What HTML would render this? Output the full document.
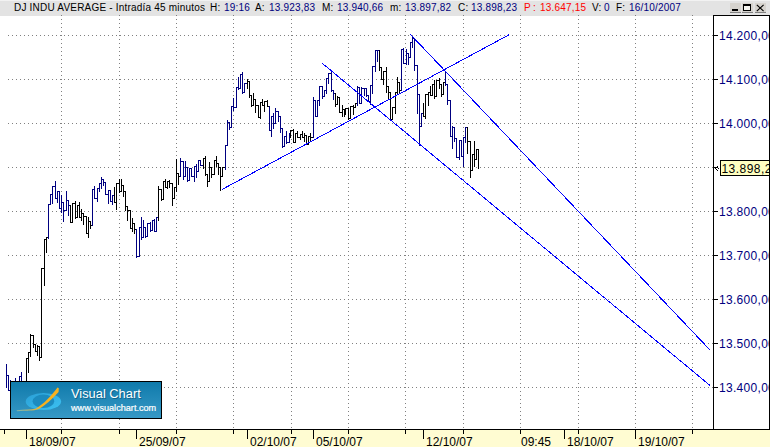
<!DOCTYPE html>
<html><head><meta charset="utf-8"><style>
html,body{margin:0;padding:0;}
body{width:770px;height:447px;overflow:hidden;position:relative;background:#fff;font-family:"Liberation Sans",sans-serif;}
#hdr{position:absolute;left:0;top:0;width:770px;height:15px;background:#e3e3e3;border-top:1px solid #f2f2f2;}
#hdr span{position:absolute;top:1px;font-size:10px;line-height:11px;letter-spacing:0.2px;white-space:nowrap;color:#000;}
#hdr .v{color:#000080;}
#hdr .r{color:#ff0000;}
.btn{position:absolute;top:2px;width:11px;height:10px;background:#d6d3ce;border-bottom:1px solid #808080;box-sizing:border-box;}
svg{position:absolute;left:0;top:0;}
</style></head><body>
<div id="hdr">
<span style="left:14px">DJ INDU AVERAGE - Intradía 45 minutos</span>
<span style="left:210px">H:</span><span class="v" style="left:224px">19:16</span>
<span style="left:255px">A:</span><span class="v" style="left:269px">13.923,83</span>
<span style="left:322px">M:</span><span class="v" style="left:337px">13.940,66</span>
<span style="left:390px">m:</span><span class="v" style="left:405px">13.897,82</span>
<span style="left:458px">C:</span><span class="v" style="left:471px">13.898,23</span>
<span class="r" style="left:524px">P</span><span class="r" style="left:533px">:</span><span class="r" style="left:540px">13.647,15</span>
<span style="left:592px">V:</span><span class="v" style="left:604px">0</span>
<span style="left:616px">F:</span><span class="v" style="left:629px">16/10/2007</span>
<div class="btn" style="left:730px"><div style="position:absolute;left:2px;top:6px;width:6px;height:2px;background:#000"></div></div>
<div class="btn" style="left:742px"><div style="position:absolute;left:1px;top:1px;width:8px;height:7px;box-sizing:border-box;border:1px solid #000;border-top-width:2px;background:#f4f4f0"></div></div>
<div class="btn" style="left:755px"><svg width="11" height="10" style="position:absolute;left:0;top:0"><path d="M1.8 1.8 L8.6 8.2 M8.6 1.8 L1.8 8.2" stroke="#000" stroke-width="1.15"/></svg></div>
</div>
<svg width="770" height="447" viewBox="0 0 770 447" shape-rendering="crispEdges">
<rect x="0" y="430" width="770" height="17" fill="#fffcd2"/>
<rect x="0" y="429" width="770" height="1" fill="#000"/>
<g fill="#808080"><rect x="8" y="35" width="1" height="1"/><rect x="12" y="35" width="1" height="1"/><rect x="16" y="35" width="1" height="1"/><rect x="20" y="35" width="1" height="1"/><rect x="24" y="35" width="1" height="1"/><rect x="28" y="35" width="1" height="1"/><rect x="32" y="35" width="1" height="1"/><rect x="36" y="35" width="1" height="1"/><rect x="40" y="35" width="1" height="1"/><rect x="44" y="35" width="1" height="1"/><rect x="48" y="35" width="1" height="1"/><rect x="52" y="35" width="1" height="1"/><rect x="56" y="35" width="1" height="1"/><rect x="60" y="35" width="1" height="1"/><rect x="64" y="35" width="1" height="1"/><rect x="68" y="35" width="1" height="1"/><rect x="72" y="35" width="1" height="1"/><rect x="76" y="35" width="1" height="1"/><rect x="80" y="35" width="1" height="1"/><rect x="84" y="35" width="1" height="1"/><rect x="88" y="35" width="1" height="1"/><rect x="92" y="35" width="1" height="1"/><rect x="96" y="35" width="1" height="1"/><rect x="100" y="35" width="1" height="1"/><rect x="104" y="35" width="1" height="1"/><rect x="108" y="35" width="1" height="1"/><rect x="112" y="35" width="1" height="1"/><rect x="116" y="35" width="1" height="1"/><rect x="120" y="35" width="1" height="1"/><rect x="124" y="35" width="1" height="1"/><rect x="128" y="35" width="1" height="1"/><rect x="132" y="35" width="1" height="1"/><rect x="136" y="35" width="1" height="1"/><rect x="140" y="35" width="1" height="1"/><rect x="144" y="35" width="1" height="1"/><rect x="148" y="35" width="1" height="1"/><rect x="152" y="35" width="1" height="1"/><rect x="156" y="35" width="1" height="1"/><rect x="160" y="35" width="1" height="1"/><rect x="164" y="35" width="1" height="1"/><rect x="168" y="35" width="1" height="1"/><rect x="172" y="35" width="1" height="1"/><rect x="176" y="35" width="1" height="1"/><rect x="180" y="35" width="1" height="1"/><rect x="184" y="35" width="1" height="1"/><rect x="188" y="35" width="1" height="1"/><rect x="192" y="35" width="1" height="1"/><rect x="196" y="35" width="1" height="1"/><rect x="200" y="35" width="1" height="1"/><rect x="204" y="35" width="1" height="1"/><rect x="208" y="35" width="1" height="1"/><rect x="212" y="35" width="1" height="1"/><rect x="216" y="35" width="1" height="1"/><rect x="220" y="35" width="1" height="1"/><rect x="224" y="35" width="1" height="1"/><rect x="228" y="35" width="1" height="1"/><rect x="232" y="35" width="1" height="1"/><rect x="236" y="35" width="1" height="1"/><rect x="240" y="35" width="1" height="1"/><rect x="244" y="35" width="1" height="1"/><rect x="248" y="35" width="1" height="1"/><rect x="252" y="35" width="1" height="1"/><rect x="256" y="35" width="1" height="1"/><rect x="260" y="35" width="1" height="1"/><rect x="264" y="35" width="1" height="1"/><rect x="268" y="35" width="1" height="1"/><rect x="272" y="35" width="1" height="1"/><rect x="276" y="35" width="1" height="1"/><rect x="280" y="35" width="1" height="1"/><rect x="284" y="35" width="1" height="1"/><rect x="288" y="35" width="1" height="1"/><rect x="292" y="35" width="1" height="1"/><rect x="296" y="35" width="1" height="1"/><rect x="300" y="35" width="1" height="1"/><rect x="304" y="35" width="1" height="1"/><rect x="308" y="35" width="1" height="1"/><rect x="312" y="35" width="1" height="1"/><rect x="316" y="35" width="1" height="1"/><rect x="320" y="35" width="1" height="1"/><rect x="324" y="35" width="1" height="1"/><rect x="328" y="35" width="1" height="1"/><rect x="332" y="35" width="1" height="1"/><rect x="336" y="35" width="1" height="1"/><rect x="340" y="35" width="1" height="1"/><rect x="344" y="35" width="1" height="1"/><rect x="348" y="35" width="1" height="1"/><rect x="352" y="35" width="1" height="1"/><rect x="356" y="35" width="1" height="1"/><rect x="360" y="35" width="1" height="1"/><rect x="364" y="35" width="1" height="1"/><rect x="368" y="35" width="1" height="1"/><rect x="372" y="35" width="1" height="1"/><rect x="376" y="35" width="1" height="1"/><rect x="380" y="35" width="1" height="1"/><rect x="384" y="35" width="1" height="1"/><rect x="388" y="35" width="1" height="1"/><rect x="392" y="35" width="1" height="1"/><rect x="396" y="35" width="1" height="1"/><rect x="400" y="35" width="1" height="1"/><rect x="404" y="35" width="1" height="1"/><rect x="408" y="35" width="1" height="1"/><rect x="412" y="35" width="1" height="1"/><rect x="416" y="35" width="1" height="1"/><rect x="420" y="35" width="1" height="1"/><rect x="424" y="35" width="1" height="1"/><rect x="428" y="35" width="1" height="1"/><rect x="432" y="35" width="1" height="1"/><rect x="436" y="35" width="1" height="1"/><rect x="440" y="35" width="1" height="1"/><rect x="444" y="35" width="1" height="1"/><rect x="448" y="35" width="1" height="1"/><rect x="452" y="35" width="1" height="1"/><rect x="456" y="35" width="1" height="1"/><rect x="460" y="35" width="1" height="1"/><rect x="464" y="35" width="1" height="1"/><rect x="468" y="35" width="1" height="1"/><rect x="472" y="35" width="1" height="1"/><rect x="476" y="35" width="1" height="1"/><rect x="480" y="35" width="1" height="1"/><rect x="484" y="35" width="1" height="1"/><rect x="488" y="35" width="1" height="1"/><rect x="492" y="35" width="1" height="1"/><rect x="496" y="35" width="1" height="1"/><rect x="500" y="35" width="1" height="1"/><rect x="504" y="35" width="1" height="1"/><rect x="508" y="35" width="1" height="1"/><rect x="512" y="35" width="1" height="1"/><rect x="516" y="35" width="1" height="1"/><rect x="520" y="35" width="1" height="1"/><rect x="524" y="35" width="1" height="1"/><rect x="528" y="35" width="1" height="1"/><rect x="532" y="35" width="1" height="1"/><rect x="536" y="35" width="1" height="1"/><rect x="540" y="35" width="1" height="1"/><rect x="544" y="35" width="1" height="1"/><rect x="548" y="35" width="1" height="1"/><rect x="552" y="35" width="1" height="1"/><rect x="556" y="35" width="1" height="1"/><rect x="560" y="35" width="1" height="1"/><rect x="564" y="35" width="1" height="1"/><rect x="568" y="35" width="1" height="1"/><rect x="572" y="35" width="1" height="1"/><rect x="576" y="35" width="1" height="1"/><rect x="580" y="35" width="1" height="1"/><rect x="584" y="35" width="1" height="1"/><rect x="588" y="35" width="1" height="1"/><rect x="592" y="35" width="1" height="1"/><rect x="596" y="35" width="1" height="1"/><rect x="600" y="35" width="1" height="1"/><rect x="604" y="35" width="1" height="1"/><rect x="608" y="35" width="1" height="1"/><rect x="612" y="35" width="1" height="1"/><rect x="616" y="35" width="1" height="1"/><rect x="620" y="35" width="1" height="1"/><rect x="624" y="35" width="1" height="1"/><rect x="628" y="35" width="1" height="1"/><rect x="632" y="35" width="1" height="1"/><rect x="636" y="35" width="1" height="1"/><rect x="640" y="35" width="1" height="1"/><rect x="644" y="35" width="1" height="1"/><rect x="648" y="35" width="1" height="1"/><rect x="652" y="35" width="1" height="1"/><rect x="656" y="35" width="1" height="1"/><rect x="660" y="35" width="1" height="1"/><rect x="664" y="35" width="1" height="1"/><rect x="668" y="35" width="1" height="1"/><rect x="672" y="35" width="1" height="1"/><rect x="676" y="35" width="1" height="1"/><rect x="680" y="35" width="1" height="1"/><rect x="684" y="35" width="1" height="1"/><rect x="688" y="35" width="1" height="1"/><rect x="692" y="35" width="1" height="1"/><rect x="696" y="35" width="1" height="1"/><rect x="700" y="35" width="1" height="1"/><rect x="704" y="35" width="1" height="1"/><rect x="708" y="35" width="1" height="1"/><rect x="712" y="35" width="1" height="1"/><rect x="8" y="79" width="1" height="1"/><rect x="12" y="79" width="1" height="1"/><rect x="16" y="79" width="1" height="1"/><rect x="20" y="79" width="1" height="1"/><rect x="24" y="79" width="1" height="1"/><rect x="28" y="79" width="1" height="1"/><rect x="32" y="79" width="1" height="1"/><rect x="36" y="79" width="1" height="1"/><rect x="40" y="79" width="1" height="1"/><rect x="44" y="79" width="1" height="1"/><rect x="48" y="79" width="1" height="1"/><rect x="52" y="79" width="1" height="1"/><rect x="56" y="79" width="1" height="1"/><rect x="60" y="79" width="1" height="1"/><rect x="64" y="79" width="1" height="1"/><rect x="68" y="79" width="1" height="1"/><rect x="72" y="79" width="1" height="1"/><rect x="76" y="79" width="1" height="1"/><rect x="80" y="79" width="1" height="1"/><rect x="84" y="79" width="1" height="1"/><rect x="88" y="79" width="1" height="1"/><rect x="92" y="79" width="1" height="1"/><rect x="96" y="79" width="1" height="1"/><rect x="100" y="79" width="1" height="1"/><rect x="104" y="79" width="1" height="1"/><rect x="108" y="79" width="1" height="1"/><rect x="112" y="79" width="1" height="1"/><rect x="116" y="79" width="1" height="1"/><rect x="120" y="79" width="1" height="1"/><rect x="124" y="79" width="1" height="1"/><rect x="128" y="79" width="1" height="1"/><rect x="132" y="79" width="1" height="1"/><rect x="136" y="79" width="1" height="1"/><rect x="140" y="79" width="1" height="1"/><rect x="144" y="79" width="1" height="1"/><rect x="148" y="79" width="1" height="1"/><rect x="152" y="79" width="1" height="1"/><rect x="156" y="79" width="1" height="1"/><rect x="160" y="79" width="1" height="1"/><rect x="164" y="79" width="1" height="1"/><rect x="168" y="79" width="1" height="1"/><rect x="172" y="79" width="1" height="1"/><rect x="176" y="79" width="1" height="1"/><rect x="180" y="79" width="1" height="1"/><rect x="184" y="79" width="1" height="1"/><rect x="188" y="79" width="1" height="1"/><rect x="192" y="79" width="1" height="1"/><rect x="196" y="79" width="1" height="1"/><rect x="200" y="79" width="1" height="1"/><rect x="204" y="79" width="1" height="1"/><rect x="208" y="79" width="1" height="1"/><rect x="212" y="79" width="1" height="1"/><rect x="216" y="79" width="1" height="1"/><rect x="220" y="79" width="1" height="1"/><rect x="224" y="79" width="1" height="1"/><rect x="228" y="79" width="1" height="1"/><rect x="232" y="79" width="1" height="1"/><rect x="236" y="79" width="1" height="1"/><rect x="240" y="79" width="1" height="1"/><rect x="244" y="79" width="1" height="1"/><rect x="248" y="79" width="1" height="1"/><rect x="252" y="79" width="1" height="1"/><rect x="256" y="79" width="1" height="1"/><rect x="260" y="79" width="1" height="1"/><rect x="264" y="79" width="1" height="1"/><rect x="268" y="79" width="1" height="1"/><rect x="272" y="79" width="1" height="1"/><rect x="276" y="79" width="1" height="1"/><rect x="280" y="79" width="1" height="1"/><rect x="284" y="79" width="1" height="1"/><rect x="288" y="79" width="1" height="1"/><rect x="292" y="79" width="1" height="1"/><rect x="296" y="79" width="1" height="1"/><rect x="300" y="79" width="1" height="1"/><rect x="304" y="79" width="1" height="1"/><rect x="308" y="79" width="1" height="1"/><rect x="312" y="79" width="1" height="1"/><rect x="316" y="79" width="1" height="1"/><rect x="320" y="79" width="1" height="1"/><rect x="324" y="79" width="1" height="1"/><rect x="328" y="79" width="1" height="1"/><rect x="332" y="79" width="1" height="1"/><rect x="336" y="79" width="1" height="1"/><rect x="340" y="79" width="1" height="1"/><rect x="344" y="79" width="1" height="1"/><rect x="348" y="79" width="1" height="1"/><rect x="352" y="79" width="1" height="1"/><rect x="356" y="79" width="1" height="1"/><rect x="360" y="79" width="1" height="1"/><rect x="364" y="79" width="1" height="1"/><rect x="368" y="79" width="1" height="1"/><rect x="372" y="79" width="1" height="1"/><rect x="376" y="79" width="1" height="1"/><rect x="380" y="79" width="1" height="1"/><rect x="384" y="79" width="1" height="1"/><rect x="388" y="79" width="1" height="1"/><rect x="392" y="79" width="1" height="1"/><rect x="396" y="79" width="1" height="1"/><rect x="400" y="79" width="1" height="1"/><rect x="404" y="79" width="1" height="1"/><rect x="408" y="79" width="1" height="1"/><rect x="412" y="79" width="1" height="1"/><rect x="416" y="79" width="1" height="1"/><rect x="420" y="79" width="1" height="1"/><rect x="424" y="79" width="1" height="1"/><rect x="428" y="79" width="1" height="1"/><rect x="432" y="79" width="1" height="1"/><rect x="436" y="79" width="1" height="1"/><rect x="440" y="79" width="1" height="1"/><rect x="444" y="79" width="1" height="1"/><rect x="448" y="79" width="1" height="1"/><rect x="452" y="79" width="1" height="1"/><rect x="456" y="79" width="1" height="1"/><rect x="460" y="79" width="1" height="1"/><rect x="464" y="79" width="1" height="1"/><rect x="468" y="79" width="1" height="1"/><rect x="472" y="79" width="1" height="1"/><rect x="476" y="79" width="1" height="1"/><rect x="480" y="79" width="1" height="1"/><rect x="484" y="79" width="1" height="1"/><rect x="488" y="79" width="1" height="1"/><rect x="492" y="79" width="1" height="1"/><rect x="496" y="79" width="1" height="1"/><rect x="500" y="79" width="1" height="1"/><rect x="504" y="79" width="1" height="1"/><rect x="508" y="79" width="1" height="1"/><rect x="512" y="79" width="1" height="1"/><rect x="516" y="79" width="1" height="1"/><rect x="520" y="79" width="1" height="1"/><rect x="524" y="79" width="1" height="1"/><rect x="528" y="79" width="1" height="1"/><rect x="532" y="79" width="1" height="1"/><rect x="536" y="79" width="1" height="1"/><rect x="540" y="79" width="1" height="1"/><rect x="544" y="79" width="1" height="1"/><rect x="548" y="79" width="1" height="1"/><rect x="552" y="79" width="1" height="1"/><rect x="556" y="79" width="1" height="1"/><rect x="560" y="79" width="1" height="1"/><rect x="564" y="79" width="1" height="1"/><rect x="568" y="79" width="1" height="1"/><rect x="572" y="79" width="1" height="1"/><rect x="576" y="79" width="1" height="1"/><rect x="580" y="79" width="1" height="1"/><rect x="584" y="79" width="1" height="1"/><rect x="588" y="79" width="1" height="1"/><rect x="592" y="79" width="1" height="1"/><rect x="596" y="79" width="1" height="1"/><rect x="600" y="79" width="1" height="1"/><rect x="604" y="79" width="1" height="1"/><rect x="608" y="79" width="1" height="1"/><rect x="612" y="79" width="1" height="1"/><rect x="616" y="79" width="1" height="1"/><rect x="620" y="79" width="1" height="1"/><rect x="624" y="79" width="1" height="1"/><rect x="628" y="79" width="1" height="1"/><rect x="632" y="79" width="1" height="1"/><rect x="636" y="79" width="1" height="1"/><rect x="640" y="79" width="1" height="1"/><rect x="644" y="79" width="1" height="1"/><rect x="648" y="79" width="1" height="1"/><rect x="652" y="79" width="1" height="1"/><rect x="656" y="79" width="1" height="1"/><rect x="660" y="79" width="1" height="1"/><rect x="664" y="79" width="1" height="1"/><rect x="668" y="79" width="1" height="1"/><rect x="672" y="79" width="1" height="1"/><rect x="676" y="79" width="1" height="1"/><rect x="680" y="79" width="1" height="1"/><rect x="684" y="79" width="1" height="1"/><rect x="688" y="79" width="1" height="1"/><rect x="692" y="79" width="1" height="1"/><rect x="696" y="79" width="1" height="1"/><rect x="700" y="79" width="1" height="1"/><rect x="704" y="79" width="1" height="1"/><rect x="708" y="79" width="1" height="1"/><rect x="712" y="79" width="1" height="1"/><rect x="8" y="123" width="1" height="1"/><rect x="12" y="123" width="1" height="1"/><rect x="16" y="123" width="1" height="1"/><rect x="20" y="123" width="1" height="1"/><rect x="24" y="123" width="1" height="1"/><rect x="28" y="123" width="1" height="1"/><rect x="32" y="123" width="1" height="1"/><rect x="36" y="123" width="1" height="1"/><rect x="40" y="123" width="1" height="1"/><rect x="44" y="123" width="1" height="1"/><rect x="48" y="123" width="1" height="1"/><rect x="52" y="123" width="1" height="1"/><rect x="56" y="123" width="1" height="1"/><rect x="60" y="123" width="1" height="1"/><rect x="64" y="123" width="1" height="1"/><rect x="68" y="123" width="1" height="1"/><rect x="72" y="123" width="1" height="1"/><rect x="76" y="123" width="1" height="1"/><rect x="80" y="123" width="1" height="1"/><rect x="84" y="123" width="1" height="1"/><rect x="88" y="123" width="1" height="1"/><rect x="92" y="123" width="1" height="1"/><rect x="96" y="123" width="1" height="1"/><rect x="100" y="123" width="1" height="1"/><rect x="104" y="123" width="1" height="1"/><rect x="108" y="123" width="1" height="1"/><rect x="112" y="123" width="1" height="1"/><rect x="116" y="123" width="1" height="1"/><rect x="120" y="123" width="1" height="1"/><rect x="124" y="123" width="1" height="1"/><rect x="128" y="123" width="1" height="1"/><rect x="132" y="123" width="1" height="1"/><rect x="136" y="123" width="1" height="1"/><rect x="140" y="123" width="1" height="1"/><rect x="144" y="123" width="1" height="1"/><rect x="148" y="123" width="1" height="1"/><rect x="152" y="123" width="1" height="1"/><rect x="156" y="123" width="1" height="1"/><rect x="160" y="123" width="1" height="1"/><rect x="164" y="123" width="1" height="1"/><rect x="168" y="123" width="1" height="1"/><rect x="172" y="123" width="1" height="1"/><rect x="176" y="123" width="1" height="1"/><rect x="180" y="123" width="1" height="1"/><rect x="184" y="123" width="1" height="1"/><rect x="188" y="123" width="1" height="1"/><rect x="192" y="123" width="1" height="1"/><rect x="196" y="123" width="1" height="1"/><rect x="200" y="123" width="1" height="1"/><rect x="204" y="123" width="1" height="1"/><rect x="208" y="123" width="1" height="1"/><rect x="212" y="123" width="1" height="1"/><rect x="216" y="123" width="1" height="1"/><rect x="220" y="123" width="1" height="1"/><rect x="224" y="123" width="1" height="1"/><rect x="228" y="123" width="1" height="1"/><rect x="232" y="123" width="1" height="1"/><rect x="236" y="123" width="1" height="1"/><rect x="240" y="123" width="1" height="1"/><rect x="244" y="123" width="1" height="1"/><rect x="248" y="123" width="1" height="1"/><rect x="252" y="123" width="1" height="1"/><rect x="256" y="123" width="1" height="1"/><rect x="260" y="123" width="1" height="1"/><rect x="264" y="123" width="1" height="1"/><rect x="268" y="123" width="1" height="1"/><rect x="272" y="123" width="1" height="1"/><rect x="276" y="123" width="1" height="1"/><rect x="280" y="123" width="1" height="1"/><rect x="284" y="123" width="1" height="1"/><rect x="288" y="123" width="1" height="1"/><rect x="292" y="123" width="1" height="1"/><rect x="296" y="123" width="1" height="1"/><rect x="300" y="123" width="1" height="1"/><rect x="304" y="123" width="1" height="1"/><rect x="308" y="123" width="1" height="1"/><rect x="312" y="123" width="1" height="1"/><rect x="316" y="123" width="1" height="1"/><rect x="320" y="123" width="1" height="1"/><rect x="324" y="123" width="1" height="1"/><rect x="328" y="123" width="1" height="1"/><rect x="332" y="123" width="1" height="1"/><rect x="336" y="123" width="1" height="1"/><rect x="340" y="123" width="1" height="1"/><rect x="344" y="123" width="1" height="1"/><rect x="348" y="123" width="1" height="1"/><rect x="352" y="123" width="1" height="1"/><rect x="356" y="123" width="1" height="1"/><rect x="360" y="123" width="1" height="1"/><rect x="364" y="123" width="1" height="1"/><rect x="368" y="123" width="1" height="1"/><rect x="372" y="123" width="1" height="1"/><rect x="376" y="123" width="1" height="1"/><rect x="380" y="123" width="1" height="1"/><rect x="384" y="123" width="1" height="1"/><rect x="388" y="123" width="1" height="1"/><rect x="392" y="123" width="1" height="1"/><rect x="396" y="123" width="1" height="1"/><rect x="400" y="123" width="1" height="1"/><rect x="404" y="123" width="1" height="1"/><rect x="408" y="123" width="1" height="1"/><rect x="412" y="123" width="1" height="1"/><rect x="416" y="123" width="1" height="1"/><rect x="420" y="123" width="1" height="1"/><rect x="424" y="123" width="1" height="1"/><rect x="428" y="123" width="1" height="1"/><rect x="432" y="123" width="1" height="1"/><rect x="436" y="123" width="1" height="1"/><rect x="440" y="123" width="1" height="1"/><rect x="444" y="123" width="1" height="1"/><rect x="448" y="123" width="1" height="1"/><rect x="452" y="123" width="1" height="1"/><rect x="456" y="123" width="1" height="1"/><rect x="460" y="123" width="1" height="1"/><rect x="464" y="123" width="1" height="1"/><rect x="468" y="123" width="1" height="1"/><rect x="472" y="123" width="1" height="1"/><rect x="476" y="123" width="1" height="1"/><rect x="480" y="123" width="1" height="1"/><rect x="484" y="123" width="1" height="1"/><rect x="488" y="123" width="1" height="1"/><rect x="492" y="123" width="1" height="1"/><rect x="496" y="123" width="1" height="1"/><rect x="500" y="123" width="1" height="1"/><rect x="504" y="123" width="1" height="1"/><rect x="508" y="123" width="1" height="1"/><rect x="512" y="123" width="1" height="1"/><rect x="516" y="123" width="1" height="1"/><rect x="520" y="123" width="1" height="1"/><rect x="524" y="123" width="1" height="1"/><rect x="528" y="123" width="1" height="1"/><rect x="532" y="123" width="1" height="1"/><rect x="536" y="123" width="1" height="1"/><rect x="540" y="123" width="1" height="1"/><rect x="544" y="123" width="1" height="1"/><rect x="548" y="123" width="1" height="1"/><rect x="552" y="123" width="1" height="1"/><rect x="556" y="123" width="1" height="1"/><rect x="560" y="123" width="1" height="1"/><rect x="564" y="123" width="1" height="1"/><rect x="568" y="123" width="1" height="1"/><rect x="572" y="123" width="1" height="1"/><rect x="576" y="123" width="1" height="1"/><rect x="580" y="123" width="1" height="1"/><rect x="584" y="123" width="1" height="1"/><rect x="588" y="123" width="1" height="1"/><rect x="592" y="123" width="1" height="1"/><rect x="596" y="123" width="1" height="1"/><rect x="600" y="123" width="1" height="1"/><rect x="604" y="123" width="1" height="1"/><rect x="608" y="123" width="1" height="1"/><rect x="612" y="123" width="1" height="1"/><rect x="616" y="123" width="1" height="1"/><rect x="620" y="123" width="1" height="1"/><rect x="624" y="123" width="1" height="1"/><rect x="628" y="123" width="1" height="1"/><rect x="632" y="123" width="1" height="1"/><rect x="636" y="123" width="1" height="1"/><rect x="640" y="123" width="1" height="1"/><rect x="644" y="123" width="1" height="1"/><rect x="648" y="123" width="1" height="1"/><rect x="652" y="123" width="1" height="1"/><rect x="656" y="123" width="1" height="1"/><rect x="660" y="123" width="1" height="1"/><rect x="664" y="123" width="1" height="1"/><rect x="668" y="123" width="1" height="1"/><rect x="672" y="123" width="1" height="1"/><rect x="676" y="123" width="1" height="1"/><rect x="680" y="123" width="1" height="1"/><rect x="684" y="123" width="1" height="1"/><rect x="688" y="123" width="1" height="1"/><rect x="692" y="123" width="1" height="1"/><rect x="696" y="123" width="1" height="1"/><rect x="700" y="123" width="1" height="1"/><rect x="704" y="123" width="1" height="1"/><rect x="708" y="123" width="1" height="1"/><rect x="712" y="123" width="1" height="1"/><rect x="8" y="167" width="1" height="1"/><rect x="12" y="167" width="1" height="1"/><rect x="16" y="167" width="1" height="1"/><rect x="20" y="167" width="1" height="1"/><rect x="24" y="167" width="1" height="1"/><rect x="28" y="167" width="1" height="1"/><rect x="32" y="167" width="1" height="1"/><rect x="36" y="167" width="1" height="1"/><rect x="40" y="167" width="1" height="1"/><rect x="44" y="167" width="1" height="1"/><rect x="48" y="167" width="1" height="1"/><rect x="52" y="167" width="1" height="1"/><rect x="56" y="167" width="1" height="1"/><rect x="60" y="167" width="1" height="1"/><rect x="64" y="167" width="1" height="1"/><rect x="68" y="167" width="1" height="1"/><rect x="72" y="167" width="1" height="1"/><rect x="76" y="167" width="1" height="1"/><rect x="80" y="167" width="1" height="1"/><rect x="84" y="167" width="1" height="1"/><rect x="88" y="167" width="1" height="1"/><rect x="92" y="167" width="1" height="1"/><rect x="96" y="167" width="1" height="1"/><rect x="100" y="167" width="1" height="1"/><rect x="104" y="167" width="1" height="1"/><rect x="108" y="167" width="1" height="1"/><rect x="112" y="167" width="1" height="1"/><rect x="116" y="167" width="1" height="1"/><rect x="120" y="167" width="1" height="1"/><rect x="124" y="167" width="1" height="1"/><rect x="128" y="167" width="1" height="1"/><rect x="132" y="167" width="1" height="1"/><rect x="136" y="167" width="1" height="1"/><rect x="140" y="167" width="1" height="1"/><rect x="144" y="167" width="1" height="1"/><rect x="148" y="167" width="1" height="1"/><rect x="152" y="167" width="1" height="1"/><rect x="156" y="167" width="1" height="1"/><rect x="160" y="167" width="1" height="1"/><rect x="164" y="167" width="1" height="1"/><rect x="168" y="167" width="1" height="1"/><rect x="172" y="167" width="1" height="1"/><rect x="176" y="167" width="1" height="1"/><rect x="180" y="167" width="1" height="1"/><rect x="184" y="167" width="1" height="1"/><rect x="188" y="167" width="1" height="1"/><rect x="192" y="167" width="1" height="1"/><rect x="196" y="167" width="1" height="1"/><rect x="200" y="167" width="1" height="1"/><rect x="204" y="167" width="1" height="1"/><rect x="208" y="167" width="1" height="1"/><rect x="212" y="167" width="1" height="1"/><rect x="216" y="167" width="1" height="1"/><rect x="220" y="167" width="1" height="1"/><rect x="224" y="167" width="1" height="1"/><rect x="228" y="167" width="1" height="1"/><rect x="232" y="167" width="1" height="1"/><rect x="236" y="167" width="1" height="1"/><rect x="240" y="167" width="1" height="1"/><rect x="244" y="167" width="1" height="1"/><rect x="248" y="167" width="1" height="1"/><rect x="252" y="167" width="1" height="1"/><rect x="256" y="167" width="1" height="1"/><rect x="260" y="167" width="1" height="1"/><rect x="264" y="167" width="1" height="1"/><rect x="268" y="167" width="1" height="1"/><rect x="272" y="167" width="1" height="1"/><rect x="276" y="167" width="1" height="1"/><rect x="280" y="167" width="1" height="1"/><rect x="284" y="167" width="1" height="1"/><rect x="288" y="167" width="1" height="1"/><rect x="292" y="167" width="1" height="1"/><rect x="296" y="167" width="1" height="1"/><rect x="300" y="167" width="1" height="1"/><rect x="304" y="167" width="1" height="1"/><rect x="308" y="167" width="1" height="1"/><rect x="312" y="167" width="1" height="1"/><rect x="316" y="167" width="1" height="1"/><rect x="320" y="167" width="1" height="1"/><rect x="324" y="167" width="1" height="1"/><rect x="328" y="167" width="1" height="1"/><rect x="332" y="167" width="1" height="1"/><rect x="336" y="167" width="1" height="1"/><rect x="340" y="167" width="1" height="1"/><rect x="344" y="167" width="1" height="1"/><rect x="348" y="167" width="1" height="1"/><rect x="352" y="167" width="1" height="1"/><rect x="356" y="167" width="1" height="1"/><rect x="360" y="167" width="1" height="1"/><rect x="364" y="167" width="1" height="1"/><rect x="368" y="167" width="1" height="1"/><rect x="372" y="167" width="1" height="1"/><rect x="376" y="167" width="1" height="1"/><rect x="380" y="167" width="1" height="1"/><rect x="384" y="167" width="1" height="1"/><rect x="388" y="167" width="1" height="1"/><rect x="392" y="167" width="1" height="1"/><rect x="396" y="167" width="1" height="1"/><rect x="400" y="167" width="1" height="1"/><rect x="404" y="167" width="1" height="1"/><rect x="408" y="167" width="1" height="1"/><rect x="412" y="167" width="1" height="1"/><rect x="416" y="167" width="1" height="1"/><rect x="420" y="167" width="1" height="1"/><rect x="424" y="167" width="1" height="1"/><rect x="428" y="167" width="1" height="1"/><rect x="432" y="167" width="1" height="1"/><rect x="436" y="167" width="1" height="1"/><rect x="440" y="167" width="1" height="1"/><rect x="444" y="167" width="1" height="1"/><rect x="448" y="167" width="1" height="1"/><rect x="452" y="167" width="1" height="1"/><rect x="456" y="167" width="1" height="1"/><rect x="460" y="167" width="1" height="1"/><rect x="464" y="167" width="1" height="1"/><rect x="468" y="167" width="1" height="1"/><rect x="472" y="167" width="1" height="1"/><rect x="476" y="167" width="1" height="1"/><rect x="480" y="167" width="1" height="1"/><rect x="484" y="167" width="1" height="1"/><rect x="488" y="167" width="1" height="1"/><rect x="492" y="167" width="1" height="1"/><rect x="496" y="167" width="1" height="1"/><rect x="500" y="167" width="1" height="1"/><rect x="504" y="167" width="1" height="1"/><rect x="508" y="167" width="1" height="1"/><rect x="512" y="167" width="1" height="1"/><rect x="516" y="167" width="1" height="1"/><rect x="520" y="167" width="1" height="1"/><rect x="524" y="167" width="1" height="1"/><rect x="528" y="167" width="1" height="1"/><rect x="532" y="167" width="1" height="1"/><rect x="536" y="167" width="1" height="1"/><rect x="540" y="167" width="1" height="1"/><rect x="544" y="167" width="1" height="1"/><rect x="548" y="167" width="1" height="1"/><rect x="552" y="167" width="1" height="1"/><rect x="556" y="167" width="1" height="1"/><rect x="560" y="167" width="1" height="1"/><rect x="564" y="167" width="1" height="1"/><rect x="568" y="167" width="1" height="1"/><rect x="572" y="167" width="1" height="1"/><rect x="576" y="167" width="1" height="1"/><rect x="580" y="167" width="1" height="1"/><rect x="584" y="167" width="1" height="1"/><rect x="588" y="167" width="1" height="1"/><rect x="592" y="167" width="1" height="1"/><rect x="596" y="167" width="1" height="1"/><rect x="600" y="167" width="1" height="1"/><rect x="604" y="167" width="1" height="1"/><rect x="608" y="167" width="1" height="1"/><rect x="612" y="167" width="1" height="1"/><rect x="616" y="167" width="1" height="1"/><rect x="620" y="167" width="1" height="1"/><rect x="624" y="167" width="1" height="1"/><rect x="628" y="167" width="1" height="1"/><rect x="632" y="167" width="1" height="1"/><rect x="636" y="167" width="1" height="1"/><rect x="640" y="167" width="1" height="1"/><rect x="644" y="167" width="1" height="1"/><rect x="648" y="167" width="1" height="1"/><rect x="652" y="167" width="1" height="1"/><rect x="656" y="167" width="1" height="1"/><rect x="660" y="167" width="1" height="1"/><rect x="664" y="167" width="1" height="1"/><rect x="668" y="167" width="1" height="1"/><rect x="672" y="167" width="1" height="1"/><rect x="676" y="167" width="1" height="1"/><rect x="680" y="167" width="1" height="1"/><rect x="684" y="167" width="1" height="1"/><rect x="688" y="167" width="1" height="1"/><rect x="692" y="167" width="1" height="1"/><rect x="696" y="167" width="1" height="1"/><rect x="700" y="167" width="1" height="1"/><rect x="704" y="167" width="1" height="1"/><rect x="708" y="167" width="1" height="1"/><rect x="712" y="167" width="1" height="1"/><rect x="8" y="211" width="1" height="1"/><rect x="12" y="211" width="1" height="1"/><rect x="16" y="211" width="1" height="1"/><rect x="20" y="211" width="1" height="1"/><rect x="24" y="211" width="1" height="1"/><rect x="28" y="211" width="1" height="1"/><rect x="32" y="211" width="1" height="1"/><rect x="36" y="211" width="1" height="1"/><rect x="40" y="211" width="1" height="1"/><rect x="44" y="211" width="1" height="1"/><rect x="48" y="211" width="1" height="1"/><rect x="52" y="211" width="1" height="1"/><rect x="56" y="211" width="1" height="1"/><rect x="60" y="211" width="1" height="1"/><rect x="64" y="211" width="1" height="1"/><rect x="68" y="211" width="1" height="1"/><rect x="72" y="211" width="1" height="1"/><rect x="76" y="211" width="1" height="1"/><rect x="80" y="211" width="1" height="1"/><rect x="84" y="211" width="1" height="1"/><rect x="88" y="211" width="1" height="1"/><rect x="92" y="211" width="1" height="1"/><rect x="96" y="211" width="1" height="1"/><rect x="100" y="211" width="1" height="1"/><rect x="104" y="211" width="1" height="1"/><rect x="108" y="211" width="1" height="1"/><rect x="112" y="211" width="1" height="1"/><rect x="116" y="211" width="1" height="1"/><rect x="120" y="211" width="1" height="1"/><rect x="124" y="211" width="1" height="1"/><rect x="128" y="211" width="1" height="1"/><rect x="132" y="211" width="1" height="1"/><rect x="136" y="211" width="1" height="1"/><rect x="140" y="211" width="1" height="1"/><rect x="144" y="211" width="1" height="1"/><rect x="148" y="211" width="1" height="1"/><rect x="152" y="211" width="1" height="1"/><rect x="156" y="211" width="1" height="1"/><rect x="160" y="211" width="1" height="1"/><rect x="164" y="211" width="1" height="1"/><rect x="168" y="211" width="1" height="1"/><rect x="172" y="211" width="1" height="1"/><rect x="176" y="211" width="1" height="1"/><rect x="180" y="211" width="1" height="1"/><rect x="184" y="211" width="1" height="1"/><rect x="188" y="211" width="1" height="1"/><rect x="192" y="211" width="1" height="1"/><rect x="196" y="211" width="1" height="1"/><rect x="200" y="211" width="1" height="1"/><rect x="204" y="211" width="1" height="1"/><rect x="208" y="211" width="1" height="1"/><rect x="212" y="211" width="1" height="1"/><rect x="216" y="211" width="1" height="1"/><rect x="220" y="211" width="1" height="1"/><rect x="224" y="211" width="1" height="1"/><rect x="228" y="211" width="1" height="1"/><rect x="232" y="211" width="1" height="1"/><rect x="236" y="211" width="1" height="1"/><rect x="240" y="211" width="1" height="1"/><rect x="244" y="211" width="1" height="1"/><rect x="248" y="211" width="1" height="1"/><rect x="252" y="211" width="1" height="1"/><rect x="256" y="211" width="1" height="1"/><rect x="260" y="211" width="1" height="1"/><rect x="264" y="211" width="1" height="1"/><rect x="268" y="211" width="1" height="1"/><rect x="272" y="211" width="1" height="1"/><rect x="276" y="211" width="1" height="1"/><rect x="280" y="211" width="1" height="1"/><rect x="284" y="211" width="1" height="1"/><rect x="288" y="211" width="1" height="1"/><rect x="292" y="211" width="1" height="1"/><rect x="296" y="211" width="1" height="1"/><rect x="300" y="211" width="1" height="1"/><rect x="304" y="211" width="1" height="1"/><rect x="308" y="211" width="1" height="1"/><rect x="312" y="211" width="1" height="1"/><rect x="316" y="211" width="1" height="1"/><rect x="320" y="211" width="1" height="1"/><rect x="324" y="211" width="1" height="1"/><rect x="328" y="211" width="1" height="1"/><rect x="332" y="211" width="1" height="1"/><rect x="336" y="211" width="1" height="1"/><rect x="340" y="211" width="1" height="1"/><rect x="344" y="211" width="1" height="1"/><rect x="348" y="211" width="1" height="1"/><rect x="352" y="211" width="1" height="1"/><rect x="356" y="211" width="1" height="1"/><rect x="360" y="211" width="1" height="1"/><rect x="364" y="211" width="1" height="1"/><rect x="368" y="211" width="1" height="1"/><rect x="372" y="211" width="1" height="1"/><rect x="376" y="211" width="1" height="1"/><rect x="380" y="211" width="1" height="1"/><rect x="384" y="211" width="1" height="1"/><rect x="388" y="211" width="1" height="1"/><rect x="392" y="211" width="1" height="1"/><rect x="396" y="211" width="1" height="1"/><rect x="400" y="211" width="1" height="1"/><rect x="404" y="211" width="1" height="1"/><rect x="408" y="211" width="1" height="1"/><rect x="412" y="211" width="1" height="1"/><rect x="416" y="211" width="1" height="1"/><rect x="420" y="211" width="1" height="1"/><rect x="424" y="211" width="1" height="1"/><rect x="428" y="211" width="1" height="1"/><rect x="432" y="211" width="1" height="1"/><rect x="436" y="211" width="1" height="1"/><rect x="440" y="211" width="1" height="1"/><rect x="444" y="211" width="1" height="1"/><rect x="448" y="211" width="1" height="1"/><rect x="452" y="211" width="1" height="1"/><rect x="456" y="211" width="1" height="1"/><rect x="460" y="211" width="1" height="1"/><rect x="464" y="211" width="1" height="1"/><rect x="468" y="211" width="1" height="1"/><rect x="472" y="211" width="1" height="1"/><rect x="476" y="211" width="1" height="1"/><rect x="480" y="211" width="1" height="1"/><rect x="484" y="211" width="1" height="1"/><rect x="488" y="211" width="1" height="1"/><rect x="492" y="211" width="1" height="1"/><rect x="496" y="211" width="1" height="1"/><rect x="500" y="211" width="1" height="1"/><rect x="504" y="211" width="1" height="1"/><rect x="508" y="211" width="1" height="1"/><rect x="512" y="211" width="1" height="1"/><rect x="516" y="211" width="1" height="1"/><rect x="520" y="211" width="1" height="1"/><rect x="524" y="211" width="1" height="1"/><rect x="528" y="211" width="1" height="1"/><rect x="532" y="211" width="1" height="1"/><rect x="536" y="211" width="1" height="1"/><rect x="540" y="211" width="1" height="1"/><rect x="544" y="211" width="1" height="1"/><rect x="548" y="211" width="1" height="1"/><rect x="552" y="211" width="1" height="1"/><rect x="556" y="211" width="1" height="1"/><rect x="560" y="211" width="1" height="1"/><rect x="564" y="211" width="1" height="1"/><rect x="568" y="211" width="1" height="1"/><rect x="572" y="211" width="1" height="1"/><rect x="576" y="211" width="1" height="1"/><rect x="580" y="211" width="1" height="1"/><rect x="584" y="211" width="1" height="1"/><rect x="588" y="211" width="1" height="1"/><rect x="592" y="211" width="1" height="1"/><rect x="596" y="211" width="1" height="1"/><rect x="600" y="211" width="1" height="1"/><rect x="604" y="211" width="1" height="1"/><rect x="608" y="211" width="1" height="1"/><rect x="612" y="211" width="1" height="1"/><rect x="616" y="211" width="1" height="1"/><rect x="620" y="211" width="1" height="1"/><rect x="624" y="211" width="1" height="1"/><rect x="628" y="211" width="1" height="1"/><rect x="632" y="211" width="1" height="1"/><rect x="636" y="211" width="1" height="1"/><rect x="640" y="211" width="1" height="1"/><rect x="644" y="211" width="1" height="1"/><rect x="648" y="211" width="1" height="1"/><rect x="652" y="211" width="1" height="1"/><rect x="656" y="211" width="1" height="1"/><rect x="660" y="211" width="1" height="1"/><rect x="664" y="211" width="1" height="1"/><rect x="668" y="211" width="1" height="1"/><rect x="672" y="211" width="1" height="1"/><rect x="676" y="211" width="1" height="1"/><rect x="680" y="211" width="1" height="1"/><rect x="684" y="211" width="1" height="1"/><rect x="688" y="211" width="1" height="1"/><rect x="692" y="211" width="1" height="1"/><rect x="696" y="211" width="1" height="1"/><rect x="700" y="211" width="1" height="1"/><rect x="704" y="211" width="1" height="1"/><rect x="708" y="211" width="1" height="1"/><rect x="712" y="211" width="1" height="1"/><rect x="8" y="255" width="1" height="1"/><rect x="12" y="255" width="1" height="1"/><rect x="16" y="255" width="1" height="1"/><rect x="20" y="255" width="1" height="1"/><rect x="24" y="255" width="1" height="1"/><rect x="28" y="255" width="1" height="1"/><rect x="32" y="255" width="1" height="1"/><rect x="36" y="255" width="1" height="1"/><rect x="40" y="255" width="1" height="1"/><rect x="44" y="255" width="1" height="1"/><rect x="48" y="255" width="1" height="1"/><rect x="52" y="255" width="1" height="1"/><rect x="56" y="255" width="1" height="1"/><rect x="60" y="255" width="1" height="1"/><rect x="64" y="255" width="1" height="1"/><rect x="68" y="255" width="1" height="1"/><rect x="72" y="255" width="1" height="1"/><rect x="76" y="255" width="1" height="1"/><rect x="80" y="255" width="1" height="1"/><rect x="84" y="255" width="1" height="1"/><rect x="88" y="255" width="1" height="1"/><rect x="92" y="255" width="1" height="1"/><rect x="96" y="255" width="1" height="1"/><rect x="100" y="255" width="1" height="1"/><rect x="104" y="255" width="1" height="1"/><rect x="108" y="255" width="1" height="1"/><rect x="112" y="255" width="1" height="1"/><rect x="116" y="255" width="1" height="1"/><rect x="120" y="255" width="1" height="1"/><rect x="124" y="255" width="1" height="1"/><rect x="128" y="255" width="1" height="1"/><rect x="132" y="255" width="1" height="1"/><rect x="136" y="255" width="1" height="1"/><rect x="140" y="255" width="1" height="1"/><rect x="144" y="255" width="1" height="1"/><rect x="148" y="255" width="1" height="1"/><rect x="152" y="255" width="1" height="1"/><rect x="156" y="255" width="1" height="1"/><rect x="160" y="255" width="1" height="1"/><rect x="164" y="255" width="1" height="1"/><rect x="168" y="255" width="1" height="1"/><rect x="172" y="255" width="1" height="1"/><rect x="176" y="255" width="1" height="1"/><rect x="180" y="255" width="1" height="1"/><rect x="184" y="255" width="1" height="1"/><rect x="188" y="255" width="1" height="1"/><rect x="192" y="255" width="1" height="1"/><rect x="196" y="255" width="1" height="1"/><rect x="200" y="255" width="1" height="1"/><rect x="204" y="255" width="1" height="1"/><rect x="208" y="255" width="1" height="1"/><rect x="212" y="255" width="1" height="1"/><rect x="216" y="255" width="1" height="1"/><rect x="220" y="255" width="1" height="1"/><rect x="224" y="255" width="1" height="1"/><rect x="228" y="255" width="1" height="1"/><rect x="232" y="255" width="1" height="1"/><rect x="236" y="255" width="1" height="1"/><rect x="240" y="255" width="1" height="1"/><rect x="244" y="255" width="1" height="1"/><rect x="248" y="255" width="1" height="1"/><rect x="252" y="255" width="1" height="1"/><rect x="256" y="255" width="1" height="1"/><rect x="260" y="255" width="1" height="1"/><rect x="264" y="255" width="1" height="1"/><rect x="268" y="255" width="1" height="1"/><rect x="272" y="255" width="1" height="1"/><rect x="276" y="255" width="1" height="1"/><rect x="280" y="255" width="1" height="1"/><rect x="284" y="255" width="1" height="1"/><rect x="288" y="255" width="1" height="1"/><rect x="292" y="255" width="1" height="1"/><rect x="296" y="255" width="1" height="1"/><rect x="300" y="255" width="1" height="1"/><rect x="304" y="255" width="1" height="1"/><rect x="308" y="255" width="1" height="1"/><rect x="312" y="255" width="1" height="1"/><rect x="316" y="255" width="1" height="1"/><rect x="320" y="255" width="1" height="1"/><rect x="324" y="255" width="1" height="1"/><rect x="328" y="255" width="1" height="1"/><rect x="332" y="255" width="1" height="1"/><rect x="336" y="255" width="1" height="1"/><rect x="340" y="255" width="1" height="1"/><rect x="344" y="255" width="1" height="1"/><rect x="348" y="255" width="1" height="1"/><rect x="352" y="255" width="1" height="1"/><rect x="356" y="255" width="1" height="1"/><rect x="360" y="255" width="1" height="1"/><rect x="364" y="255" width="1" height="1"/><rect x="368" y="255" width="1" height="1"/><rect x="372" y="255" width="1" height="1"/><rect x="376" y="255" width="1" height="1"/><rect x="380" y="255" width="1" height="1"/><rect x="384" y="255" width="1" height="1"/><rect x="388" y="255" width="1" height="1"/><rect x="392" y="255" width="1" height="1"/><rect x="396" y="255" width="1" height="1"/><rect x="400" y="255" width="1" height="1"/><rect x="404" y="255" width="1" height="1"/><rect x="408" y="255" width="1" height="1"/><rect x="412" y="255" width="1" height="1"/><rect x="416" y="255" width="1" height="1"/><rect x="420" y="255" width="1" height="1"/><rect x="424" y="255" width="1" height="1"/><rect x="428" y="255" width="1" height="1"/><rect x="432" y="255" width="1" height="1"/><rect x="436" y="255" width="1" height="1"/><rect x="440" y="255" width="1" height="1"/><rect x="444" y="255" width="1" height="1"/><rect x="448" y="255" width="1" height="1"/><rect x="452" y="255" width="1" height="1"/><rect x="456" y="255" width="1" height="1"/><rect x="460" y="255" width="1" height="1"/><rect x="464" y="255" width="1" height="1"/><rect x="468" y="255" width="1" height="1"/><rect x="472" y="255" width="1" height="1"/><rect x="476" y="255" width="1" height="1"/><rect x="480" y="255" width="1" height="1"/><rect x="484" y="255" width="1" height="1"/><rect x="488" y="255" width="1" height="1"/><rect x="492" y="255" width="1" height="1"/><rect x="496" y="255" width="1" height="1"/><rect x="500" y="255" width="1" height="1"/><rect x="504" y="255" width="1" height="1"/><rect x="508" y="255" width="1" height="1"/><rect x="512" y="255" width="1" height="1"/><rect x="516" y="255" width="1" height="1"/><rect x="520" y="255" width="1" height="1"/><rect x="524" y="255" width="1" height="1"/><rect x="528" y="255" width="1" height="1"/><rect x="532" y="255" width="1" height="1"/><rect x="536" y="255" width="1" height="1"/><rect x="540" y="255" width="1" height="1"/><rect x="544" y="255" width="1" height="1"/><rect x="548" y="255" width="1" height="1"/><rect x="552" y="255" width="1" height="1"/><rect x="556" y="255" width="1" height="1"/><rect x="560" y="255" width="1" height="1"/><rect x="564" y="255" width="1" height="1"/><rect x="568" y="255" width="1" height="1"/><rect x="572" y="255" width="1" height="1"/><rect x="576" y="255" width="1" height="1"/><rect x="580" y="255" width="1" height="1"/><rect x="584" y="255" width="1" height="1"/><rect x="588" y="255" width="1" height="1"/><rect x="592" y="255" width="1" height="1"/><rect x="596" y="255" width="1" height="1"/><rect x="600" y="255" width="1" height="1"/><rect x="604" y="255" width="1" height="1"/><rect x="608" y="255" width="1" height="1"/><rect x="612" y="255" width="1" height="1"/><rect x="616" y="255" width="1" height="1"/><rect x="620" y="255" width="1" height="1"/><rect x="624" y="255" width="1" height="1"/><rect x="628" y="255" width="1" height="1"/><rect x="632" y="255" width="1" height="1"/><rect x="636" y="255" width="1" height="1"/><rect x="640" y="255" width="1" height="1"/><rect x="644" y="255" width="1" height="1"/><rect x="648" y="255" width="1" height="1"/><rect x="652" y="255" width="1" height="1"/><rect x="656" y="255" width="1" height="1"/><rect x="660" y="255" width="1" height="1"/><rect x="664" y="255" width="1" height="1"/><rect x="668" y="255" width="1" height="1"/><rect x="672" y="255" width="1" height="1"/><rect x="676" y="255" width="1" height="1"/><rect x="680" y="255" width="1" height="1"/><rect x="684" y="255" width="1" height="1"/><rect x="688" y="255" width="1" height="1"/><rect x="692" y="255" width="1" height="1"/><rect x="696" y="255" width="1" height="1"/><rect x="700" y="255" width="1" height="1"/><rect x="704" y="255" width="1" height="1"/><rect x="708" y="255" width="1" height="1"/><rect x="712" y="255" width="1" height="1"/><rect x="8" y="299" width="1" height="1"/><rect x="12" y="299" width="1" height="1"/><rect x="16" y="299" width="1" height="1"/><rect x="20" y="299" width="1" height="1"/><rect x="24" y="299" width="1" height="1"/><rect x="28" y="299" width="1" height="1"/><rect x="32" y="299" width="1" height="1"/><rect x="36" y="299" width="1" height="1"/><rect x="40" y="299" width="1" height="1"/><rect x="44" y="299" width="1" height="1"/><rect x="48" y="299" width="1" height="1"/><rect x="52" y="299" width="1" height="1"/><rect x="56" y="299" width="1" height="1"/><rect x="60" y="299" width="1" height="1"/><rect x="64" y="299" width="1" height="1"/><rect x="68" y="299" width="1" height="1"/><rect x="72" y="299" width="1" height="1"/><rect x="76" y="299" width="1" height="1"/><rect x="80" y="299" width="1" height="1"/><rect x="84" y="299" width="1" height="1"/><rect x="88" y="299" width="1" height="1"/><rect x="92" y="299" width="1" height="1"/><rect x="96" y="299" width="1" height="1"/><rect x="100" y="299" width="1" height="1"/><rect x="104" y="299" width="1" height="1"/><rect x="108" y="299" width="1" height="1"/><rect x="112" y="299" width="1" height="1"/><rect x="116" y="299" width="1" height="1"/><rect x="120" y="299" width="1" height="1"/><rect x="124" y="299" width="1" height="1"/><rect x="128" y="299" width="1" height="1"/><rect x="132" y="299" width="1" height="1"/><rect x="136" y="299" width="1" height="1"/><rect x="140" y="299" width="1" height="1"/><rect x="144" y="299" width="1" height="1"/><rect x="148" y="299" width="1" height="1"/><rect x="152" y="299" width="1" height="1"/><rect x="156" y="299" width="1" height="1"/><rect x="160" y="299" width="1" height="1"/><rect x="164" y="299" width="1" height="1"/><rect x="168" y="299" width="1" height="1"/><rect x="172" y="299" width="1" height="1"/><rect x="176" y="299" width="1" height="1"/><rect x="180" y="299" width="1" height="1"/><rect x="184" y="299" width="1" height="1"/><rect x="188" y="299" width="1" height="1"/><rect x="192" y="299" width="1" height="1"/><rect x="196" y="299" width="1" height="1"/><rect x="200" y="299" width="1" height="1"/><rect x="204" y="299" width="1" height="1"/><rect x="208" y="299" width="1" height="1"/><rect x="212" y="299" width="1" height="1"/><rect x="216" y="299" width="1" height="1"/><rect x="220" y="299" width="1" height="1"/><rect x="224" y="299" width="1" height="1"/><rect x="228" y="299" width="1" height="1"/><rect x="232" y="299" width="1" height="1"/><rect x="236" y="299" width="1" height="1"/><rect x="240" y="299" width="1" height="1"/><rect x="244" y="299" width="1" height="1"/><rect x="248" y="299" width="1" height="1"/><rect x="252" y="299" width="1" height="1"/><rect x="256" y="299" width="1" height="1"/><rect x="260" y="299" width="1" height="1"/><rect x="264" y="299" width="1" height="1"/><rect x="268" y="299" width="1" height="1"/><rect x="272" y="299" width="1" height="1"/><rect x="276" y="299" width="1" height="1"/><rect x="280" y="299" width="1" height="1"/><rect x="284" y="299" width="1" height="1"/><rect x="288" y="299" width="1" height="1"/><rect x="292" y="299" width="1" height="1"/><rect x="296" y="299" width="1" height="1"/><rect x="300" y="299" width="1" height="1"/><rect x="304" y="299" width="1" height="1"/><rect x="308" y="299" width="1" height="1"/><rect x="312" y="299" width="1" height="1"/><rect x="316" y="299" width="1" height="1"/><rect x="320" y="299" width="1" height="1"/><rect x="324" y="299" width="1" height="1"/><rect x="328" y="299" width="1" height="1"/><rect x="332" y="299" width="1" height="1"/><rect x="336" y="299" width="1" height="1"/><rect x="340" y="299" width="1" height="1"/><rect x="344" y="299" width="1" height="1"/><rect x="348" y="299" width="1" height="1"/><rect x="352" y="299" width="1" height="1"/><rect x="356" y="299" width="1" height="1"/><rect x="360" y="299" width="1" height="1"/><rect x="364" y="299" width="1" height="1"/><rect x="368" y="299" width="1" height="1"/><rect x="372" y="299" width="1" height="1"/><rect x="376" y="299" width="1" height="1"/><rect x="380" y="299" width="1" height="1"/><rect x="384" y="299" width="1" height="1"/><rect x="388" y="299" width="1" height="1"/><rect x="392" y="299" width="1" height="1"/><rect x="396" y="299" width="1" height="1"/><rect x="400" y="299" width="1" height="1"/><rect x="404" y="299" width="1" height="1"/><rect x="408" y="299" width="1" height="1"/><rect x="412" y="299" width="1" height="1"/><rect x="416" y="299" width="1" height="1"/><rect x="420" y="299" width="1" height="1"/><rect x="424" y="299" width="1" height="1"/><rect x="428" y="299" width="1" height="1"/><rect x="432" y="299" width="1" height="1"/><rect x="436" y="299" width="1" height="1"/><rect x="440" y="299" width="1" height="1"/><rect x="444" y="299" width="1" height="1"/><rect x="448" y="299" width="1" height="1"/><rect x="452" y="299" width="1" height="1"/><rect x="456" y="299" width="1" height="1"/><rect x="460" y="299" width="1" height="1"/><rect x="464" y="299" width="1" height="1"/><rect x="468" y="299" width="1" height="1"/><rect x="472" y="299" width="1" height="1"/><rect x="476" y="299" width="1" height="1"/><rect x="480" y="299" width="1" height="1"/><rect x="484" y="299" width="1" height="1"/><rect x="488" y="299" width="1" height="1"/><rect x="492" y="299" width="1" height="1"/><rect x="496" y="299" width="1" height="1"/><rect x="500" y="299" width="1" height="1"/><rect x="504" y="299" width="1" height="1"/><rect x="508" y="299" width="1" height="1"/><rect x="512" y="299" width="1" height="1"/><rect x="516" y="299" width="1" height="1"/><rect x="520" y="299" width="1" height="1"/><rect x="524" y="299" width="1" height="1"/><rect x="528" y="299" width="1" height="1"/><rect x="532" y="299" width="1" height="1"/><rect x="536" y="299" width="1" height="1"/><rect x="540" y="299" width="1" height="1"/><rect x="544" y="299" width="1" height="1"/><rect x="548" y="299" width="1" height="1"/><rect x="552" y="299" width="1" height="1"/><rect x="556" y="299" width="1" height="1"/><rect x="560" y="299" width="1" height="1"/><rect x="564" y="299" width="1" height="1"/><rect x="568" y="299" width="1" height="1"/><rect x="572" y="299" width="1" height="1"/><rect x="576" y="299" width="1" height="1"/><rect x="580" y="299" width="1" height="1"/><rect x="584" y="299" width="1" height="1"/><rect x="588" y="299" width="1" height="1"/><rect x="592" y="299" width="1" height="1"/><rect x="596" y="299" width="1" height="1"/><rect x="600" y="299" width="1" height="1"/><rect x="604" y="299" width="1" height="1"/><rect x="608" y="299" width="1" height="1"/><rect x="612" y="299" width="1" height="1"/><rect x="616" y="299" width="1" height="1"/><rect x="620" y="299" width="1" height="1"/><rect x="624" y="299" width="1" height="1"/><rect x="628" y="299" width="1" height="1"/><rect x="632" y="299" width="1" height="1"/><rect x="636" y="299" width="1" height="1"/><rect x="640" y="299" width="1" height="1"/><rect x="644" y="299" width="1" height="1"/><rect x="648" y="299" width="1" height="1"/><rect x="652" y="299" width="1" height="1"/><rect x="656" y="299" width="1" height="1"/><rect x="660" y="299" width="1" height="1"/><rect x="664" y="299" width="1" height="1"/><rect x="668" y="299" width="1" height="1"/><rect x="672" y="299" width="1" height="1"/><rect x="676" y="299" width="1" height="1"/><rect x="680" y="299" width="1" height="1"/><rect x="684" y="299" width="1" height="1"/><rect x="688" y="299" width="1" height="1"/><rect x="692" y="299" width="1" height="1"/><rect x="696" y="299" width="1" height="1"/><rect x="700" y="299" width="1" height="1"/><rect x="704" y="299" width="1" height="1"/><rect x="708" y="299" width="1" height="1"/><rect x="712" y="299" width="1" height="1"/><rect x="8" y="343" width="1" height="1"/><rect x="12" y="343" width="1" height="1"/><rect x="16" y="343" width="1" height="1"/><rect x="20" y="343" width="1" height="1"/><rect x="24" y="343" width="1" height="1"/><rect x="28" y="343" width="1" height="1"/><rect x="32" y="343" width="1" height="1"/><rect x="36" y="343" width="1" height="1"/><rect x="40" y="343" width="1" height="1"/><rect x="44" y="343" width="1" height="1"/><rect x="48" y="343" width="1" height="1"/><rect x="52" y="343" width="1" height="1"/><rect x="56" y="343" width="1" height="1"/><rect x="60" y="343" width="1" height="1"/><rect x="64" y="343" width="1" height="1"/><rect x="68" y="343" width="1" height="1"/><rect x="72" y="343" width="1" height="1"/><rect x="76" y="343" width="1" height="1"/><rect x="80" y="343" width="1" height="1"/><rect x="84" y="343" width="1" height="1"/><rect x="88" y="343" width="1" height="1"/><rect x="92" y="343" width="1" height="1"/><rect x="96" y="343" width="1" height="1"/><rect x="100" y="343" width="1" height="1"/><rect x="104" y="343" width="1" height="1"/><rect x="108" y="343" width="1" height="1"/><rect x="112" y="343" width="1" height="1"/><rect x="116" y="343" width="1" height="1"/><rect x="120" y="343" width="1" height="1"/><rect x="124" y="343" width="1" height="1"/><rect x="128" y="343" width="1" height="1"/><rect x="132" y="343" width="1" height="1"/><rect x="136" y="343" width="1" height="1"/><rect x="140" y="343" width="1" height="1"/><rect x="144" y="343" width="1" height="1"/><rect x="148" y="343" width="1" height="1"/><rect x="152" y="343" width="1" height="1"/><rect x="156" y="343" width="1" height="1"/><rect x="160" y="343" width="1" height="1"/><rect x="164" y="343" width="1" height="1"/><rect x="168" y="343" width="1" height="1"/><rect x="172" y="343" width="1" height="1"/><rect x="176" y="343" width="1" height="1"/><rect x="180" y="343" width="1" height="1"/><rect x="184" y="343" width="1" height="1"/><rect x="188" y="343" width="1" height="1"/><rect x="192" y="343" width="1" height="1"/><rect x="196" y="343" width="1" height="1"/><rect x="200" y="343" width="1" height="1"/><rect x="204" y="343" width="1" height="1"/><rect x="208" y="343" width="1" height="1"/><rect x="212" y="343" width="1" height="1"/><rect x="216" y="343" width="1" height="1"/><rect x="220" y="343" width="1" height="1"/><rect x="224" y="343" width="1" height="1"/><rect x="228" y="343" width="1" height="1"/><rect x="232" y="343" width="1" height="1"/><rect x="236" y="343" width="1" height="1"/><rect x="240" y="343" width="1" height="1"/><rect x="244" y="343" width="1" height="1"/><rect x="248" y="343" width="1" height="1"/><rect x="252" y="343" width="1" height="1"/><rect x="256" y="343" width="1" height="1"/><rect x="260" y="343" width="1" height="1"/><rect x="264" y="343" width="1" height="1"/><rect x="268" y="343" width="1" height="1"/><rect x="272" y="343" width="1" height="1"/><rect x="276" y="343" width="1" height="1"/><rect x="280" y="343" width="1" height="1"/><rect x="284" y="343" width="1" height="1"/><rect x="288" y="343" width="1" height="1"/><rect x="292" y="343" width="1" height="1"/><rect x="296" y="343" width="1" height="1"/><rect x="300" y="343" width="1" height="1"/><rect x="304" y="343" width="1" height="1"/><rect x="308" y="343" width="1" height="1"/><rect x="312" y="343" width="1" height="1"/><rect x="316" y="343" width="1" height="1"/><rect x="320" y="343" width="1" height="1"/><rect x="324" y="343" width="1" height="1"/><rect x="328" y="343" width="1" height="1"/><rect x="332" y="343" width="1" height="1"/><rect x="336" y="343" width="1" height="1"/><rect x="340" y="343" width="1" height="1"/><rect x="344" y="343" width="1" height="1"/><rect x="348" y="343" width="1" height="1"/><rect x="352" y="343" width="1" height="1"/><rect x="356" y="343" width="1" height="1"/><rect x="360" y="343" width="1" height="1"/><rect x="364" y="343" width="1" height="1"/><rect x="368" y="343" width="1" height="1"/><rect x="372" y="343" width="1" height="1"/><rect x="376" y="343" width="1" height="1"/><rect x="380" y="343" width="1" height="1"/><rect x="384" y="343" width="1" height="1"/><rect x="388" y="343" width="1" height="1"/><rect x="392" y="343" width="1" height="1"/><rect x="396" y="343" width="1" height="1"/><rect x="400" y="343" width="1" height="1"/><rect x="404" y="343" width="1" height="1"/><rect x="408" y="343" width="1" height="1"/><rect x="412" y="343" width="1" height="1"/><rect x="416" y="343" width="1" height="1"/><rect x="420" y="343" width="1" height="1"/><rect x="424" y="343" width="1" height="1"/><rect x="428" y="343" width="1" height="1"/><rect x="432" y="343" width="1" height="1"/><rect x="436" y="343" width="1" height="1"/><rect x="440" y="343" width="1" height="1"/><rect x="444" y="343" width="1" height="1"/><rect x="448" y="343" width="1" height="1"/><rect x="452" y="343" width="1" height="1"/><rect x="456" y="343" width="1" height="1"/><rect x="460" y="343" width="1" height="1"/><rect x="464" y="343" width="1" height="1"/><rect x="468" y="343" width="1" height="1"/><rect x="472" y="343" width="1" height="1"/><rect x="476" y="343" width="1" height="1"/><rect x="480" y="343" width="1" height="1"/><rect x="484" y="343" width="1" height="1"/><rect x="488" y="343" width="1" height="1"/><rect x="492" y="343" width="1" height="1"/><rect x="496" y="343" width="1" height="1"/><rect x="500" y="343" width="1" height="1"/><rect x="504" y="343" width="1" height="1"/><rect x="508" y="343" width="1" height="1"/><rect x="512" y="343" width="1" height="1"/><rect x="516" y="343" width="1" height="1"/><rect x="520" y="343" width="1" height="1"/><rect x="524" y="343" width="1" height="1"/><rect x="528" y="343" width="1" height="1"/><rect x="532" y="343" width="1" height="1"/><rect x="536" y="343" width="1" height="1"/><rect x="540" y="343" width="1" height="1"/><rect x="544" y="343" width="1" height="1"/><rect x="548" y="343" width="1" height="1"/><rect x="552" y="343" width="1" height="1"/><rect x="556" y="343" width="1" height="1"/><rect x="560" y="343" width="1" height="1"/><rect x="564" y="343" width="1" height="1"/><rect x="568" y="343" width="1" height="1"/><rect x="572" y="343" width="1" height="1"/><rect x="576" y="343" width="1" height="1"/><rect x="580" y="343" width="1" height="1"/><rect x="584" y="343" width="1" height="1"/><rect x="588" y="343" width="1" height="1"/><rect x="592" y="343" width="1" height="1"/><rect x="596" y="343" width="1" height="1"/><rect x="600" y="343" width="1" height="1"/><rect x="604" y="343" width="1" height="1"/><rect x="608" y="343" width="1" height="1"/><rect x="612" y="343" width="1" height="1"/><rect x="616" y="343" width="1" height="1"/><rect x="620" y="343" width="1" height="1"/><rect x="624" y="343" width="1" height="1"/><rect x="628" y="343" width="1" height="1"/><rect x="632" y="343" width="1" height="1"/><rect x="636" y="343" width="1" height="1"/><rect x="640" y="343" width="1" height="1"/><rect x="644" y="343" width="1" height="1"/><rect x="648" y="343" width="1" height="1"/><rect x="652" y="343" width="1" height="1"/><rect x="656" y="343" width="1" height="1"/><rect x="660" y="343" width="1" height="1"/><rect x="664" y="343" width="1" height="1"/><rect x="668" y="343" width="1" height="1"/><rect x="672" y="343" width="1" height="1"/><rect x="676" y="343" width="1" height="1"/><rect x="680" y="343" width="1" height="1"/><rect x="684" y="343" width="1" height="1"/><rect x="688" y="343" width="1" height="1"/><rect x="692" y="343" width="1" height="1"/><rect x="696" y="343" width="1" height="1"/><rect x="700" y="343" width="1" height="1"/><rect x="704" y="343" width="1" height="1"/><rect x="708" y="343" width="1" height="1"/><rect x="712" y="343" width="1" height="1"/><rect x="8" y="387" width="1" height="1"/><rect x="12" y="387" width="1" height="1"/><rect x="16" y="387" width="1" height="1"/><rect x="20" y="387" width="1" height="1"/><rect x="24" y="387" width="1" height="1"/><rect x="28" y="387" width="1" height="1"/><rect x="32" y="387" width="1" height="1"/><rect x="36" y="387" width="1" height="1"/><rect x="40" y="387" width="1" height="1"/><rect x="44" y="387" width="1" height="1"/><rect x="48" y="387" width="1" height="1"/><rect x="52" y="387" width="1" height="1"/><rect x="56" y="387" width="1" height="1"/><rect x="60" y="387" width="1" height="1"/><rect x="64" y="387" width="1" height="1"/><rect x="68" y="387" width="1" height="1"/><rect x="72" y="387" width="1" height="1"/><rect x="76" y="387" width="1" height="1"/><rect x="80" y="387" width="1" height="1"/><rect x="84" y="387" width="1" height="1"/><rect x="88" y="387" width="1" height="1"/><rect x="92" y="387" width="1" height="1"/><rect x="96" y="387" width="1" height="1"/><rect x="100" y="387" width="1" height="1"/><rect x="104" y="387" width="1" height="1"/><rect x="108" y="387" width="1" height="1"/><rect x="112" y="387" width="1" height="1"/><rect x="116" y="387" width="1" height="1"/><rect x="120" y="387" width="1" height="1"/><rect x="124" y="387" width="1" height="1"/><rect x="128" y="387" width="1" height="1"/><rect x="132" y="387" width="1" height="1"/><rect x="136" y="387" width="1" height="1"/><rect x="140" y="387" width="1" height="1"/><rect x="144" y="387" width="1" height="1"/><rect x="148" y="387" width="1" height="1"/><rect x="152" y="387" width="1" height="1"/><rect x="156" y="387" width="1" height="1"/><rect x="160" y="387" width="1" height="1"/><rect x="164" y="387" width="1" height="1"/><rect x="168" y="387" width="1" height="1"/><rect x="172" y="387" width="1" height="1"/><rect x="176" y="387" width="1" height="1"/><rect x="180" y="387" width="1" height="1"/><rect x="184" y="387" width="1" height="1"/><rect x="188" y="387" width="1" height="1"/><rect x="192" y="387" width="1" height="1"/><rect x="196" y="387" width="1" height="1"/><rect x="200" y="387" width="1" height="1"/><rect x="204" y="387" width="1" height="1"/><rect x="208" y="387" width="1" height="1"/><rect x="212" y="387" width="1" height="1"/><rect x="216" y="387" width="1" height="1"/><rect x="220" y="387" width="1" height="1"/><rect x="224" y="387" width="1" height="1"/><rect x="228" y="387" width="1" height="1"/><rect x="232" y="387" width="1" height="1"/><rect x="236" y="387" width="1" height="1"/><rect x="240" y="387" width="1" height="1"/><rect x="244" y="387" width="1" height="1"/><rect x="248" y="387" width="1" height="1"/><rect x="252" y="387" width="1" height="1"/><rect x="256" y="387" width="1" height="1"/><rect x="260" y="387" width="1" height="1"/><rect x="264" y="387" width="1" height="1"/><rect x="268" y="387" width="1" height="1"/><rect x="272" y="387" width="1" height="1"/><rect x="276" y="387" width="1" height="1"/><rect x="280" y="387" width="1" height="1"/><rect x="284" y="387" width="1" height="1"/><rect x="288" y="387" width="1" height="1"/><rect x="292" y="387" width="1" height="1"/><rect x="296" y="387" width="1" height="1"/><rect x="300" y="387" width="1" height="1"/><rect x="304" y="387" width="1" height="1"/><rect x="308" y="387" width="1" height="1"/><rect x="312" y="387" width="1" height="1"/><rect x="316" y="387" width="1" height="1"/><rect x="320" y="387" width="1" height="1"/><rect x="324" y="387" width="1" height="1"/><rect x="328" y="387" width="1" height="1"/><rect x="332" y="387" width="1" height="1"/><rect x="336" y="387" width="1" height="1"/><rect x="340" y="387" width="1" height="1"/><rect x="344" y="387" width="1" height="1"/><rect x="348" y="387" width="1" height="1"/><rect x="352" y="387" width="1" height="1"/><rect x="356" y="387" width="1" height="1"/><rect x="360" y="387" width="1" height="1"/><rect x="364" y="387" width="1" height="1"/><rect x="368" y="387" width="1" height="1"/><rect x="372" y="387" width="1" height="1"/><rect x="376" y="387" width="1" height="1"/><rect x="380" y="387" width="1" height="1"/><rect x="384" y="387" width="1" height="1"/><rect x="388" y="387" width="1" height="1"/><rect x="392" y="387" width="1" height="1"/><rect x="396" y="387" width="1" height="1"/><rect x="400" y="387" width="1" height="1"/><rect x="404" y="387" width="1" height="1"/><rect x="408" y="387" width="1" height="1"/><rect x="412" y="387" width="1" height="1"/><rect x="416" y="387" width="1" height="1"/><rect x="420" y="387" width="1" height="1"/><rect x="424" y="387" width="1" height="1"/><rect x="428" y="387" width="1" height="1"/><rect x="432" y="387" width="1" height="1"/><rect x="436" y="387" width="1" height="1"/><rect x="440" y="387" width="1" height="1"/><rect x="444" y="387" width="1" height="1"/><rect x="448" y="387" width="1" height="1"/><rect x="452" y="387" width="1" height="1"/><rect x="456" y="387" width="1" height="1"/><rect x="460" y="387" width="1" height="1"/><rect x="464" y="387" width="1" height="1"/><rect x="468" y="387" width="1" height="1"/><rect x="472" y="387" width="1" height="1"/><rect x="476" y="387" width="1" height="1"/><rect x="480" y="387" width="1" height="1"/><rect x="484" y="387" width="1" height="1"/><rect x="488" y="387" width="1" height="1"/><rect x="492" y="387" width="1" height="1"/><rect x="496" y="387" width="1" height="1"/><rect x="500" y="387" width="1" height="1"/><rect x="504" y="387" width="1" height="1"/><rect x="508" y="387" width="1" height="1"/><rect x="512" y="387" width="1" height="1"/><rect x="516" y="387" width="1" height="1"/><rect x="520" y="387" width="1" height="1"/><rect x="524" y="387" width="1" height="1"/><rect x="528" y="387" width="1" height="1"/><rect x="532" y="387" width="1" height="1"/><rect x="536" y="387" width="1" height="1"/><rect x="540" y="387" width="1" height="1"/><rect x="544" y="387" width="1" height="1"/><rect x="548" y="387" width="1" height="1"/><rect x="552" y="387" width="1" height="1"/><rect x="556" y="387" width="1" height="1"/><rect x="560" y="387" width="1" height="1"/><rect x="564" y="387" width="1" height="1"/><rect x="568" y="387" width="1" height="1"/><rect x="572" y="387" width="1" height="1"/><rect x="576" y="387" width="1" height="1"/><rect x="580" y="387" width="1" height="1"/><rect x="584" y="387" width="1" height="1"/><rect x="588" y="387" width="1" height="1"/><rect x="592" y="387" width="1" height="1"/><rect x="596" y="387" width="1" height="1"/><rect x="600" y="387" width="1" height="1"/><rect x="604" y="387" width="1" height="1"/><rect x="608" y="387" width="1" height="1"/><rect x="612" y="387" width="1" height="1"/><rect x="616" y="387" width="1" height="1"/><rect x="620" y="387" width="1" height="1"/><rect x="624" y="387" width="1" height="1"/><rect x="628" y="387" width="1" height="1"/><rect x="632" y="387" width="1" height="1"/><rect x="636" y="387" width="1" height="1"/><rect x="640" y="387" width="1" height="1"/><rect x="644" y="387" width="1" height="1"/><rect x="648" y="387" width="1" height="1"/><rect x="652" y="387" width="1" height="1"/><rect x="656" y="387" width="1" height="1"/><rect x="660" y="387" width="1" height="1"/><rect x="664" y="387" width="1" height="1"/><rect x="668" y="387" width="1" height="1"/><rect x="672" y="387" width="1" height="1"/><rect x="676" y="387" width="1" height="1"/><rect x="680" y="387" width="1" height="1"/><rect x="684" y="387" width="1" height="1"/><rect x="688" y="387" width="1" height="1"/><rect x="692" y="387" width="1" height="1"/><rect x="696" y="387" width="1" height="1"/><rect x="700" y="387" width="1" height="1"/><rect x="704" y="387" width="1" height="1"/><rect x="708" y="387" width="1" height="1"/><rect x="712" y="387" width="1" height="1"/><rect x="61" y="15" width="1" height="1"/><rect x="61" y="19" width="1" height="1"/><rect x="61" y="23" width="1" height="1"/><rect x="61" y="27" width="1" height="1"/><rect x="61" y="31" width="1" height="1"/><rect x="61" y="35" width="1" height="1"/><rect x="61" y="39" width="1" height="1"/><rect x="61" y="43" width="1" height="1"/><rect x="61" y="47" width="1" height="1"/><rect x="61" y="51" width="1" height="1"/><rect x="61" y="55" width="1" height="1"/><rect x="61" y="59" width="1" height="1"/><rect x="61" y="63" width="1" height="1"/><rect x="61" y="67" width="1" height="1"/><rect x="61" y="71" width="1" height="1"/><rect x="61" y="75" width="1" height="1"/><rect x="61" y="79" width="1" height="1"/><rect x="61" y="83" width="1" height="1"/><rect x="61" y="87" width="1" height="1"/><rect x="61" y="91" width="1" height="1"/><rect x="61" y="95" width="1" height="1"/><rect x="61" y="99" width="1" height="1"/><rect x="61" y="103" width="1" height="1"/><rect x="61" y="107" width="1" height="1"/><rect x="61" y="111" width="1" height="1"/><rect x="61" y="115" width="1" height="1"/><rect x="61" y="119" width="1" height="1"/><rect x="61" y="123" width="1" height="1"/><rect x="61" y="127" width="1" height="1"/><rect x="61" y="131" width="1" height="1"/><rect x="61" y="135" width="1" height="1"/><rect x="61" y="139" width="1" height="1"/><rect x="61" y="143" width="1" height="1"/><rect x="61" y="147" width="1" height="1"/><rect x="61" y="151" width="1" height="1"/><rect x="61" y="155" width="1" height="1"/><rect x="61" y="159" width="1" height="1"/><rect x="61" y="163" width="1" height="1"/><rect x="61" y="167" width="1" height="1"/><rect x="61" y="171" width="1" height="1"/><rect x="61" y="175" width="1" height="1"/><rect x="61" y="179" width="1" height="1"/><rect x="61" y="183" width="1" height="1"/><rect x="61" y="187" width="1" height="1"/><rect x="61" y="191" width="1" height="1"/><rect x="61" y="195" width="1" height="1"/><rect x="61" y="199" width="1" height="1"/><rect x="61" y="203" width="1" height="1"/><rect x="61" y="207" width="1" height="1"/><rect x="61" y="211" width="1" height="1"/><rect x="61" y="215" width="1" height="1"/><rect x="61" y="219" width="1" height="1"/><rect x="61" y="223" width="1" height="1"/><rect x="61" y="227" width="1" height="1"/><rect x="61" y="231" width="1" height="1"/><rect x="61" y="235" width="1" height="1"/><rect x="61" y="239" width="1" height="1"/><rect x="61" y="243" width="1" height="1"/><rect x="61" y="247" width="1" height="1"/><rect x="61" y="251" width="1" height="1"/><rect x="61" y="255" width="1" height="1"/><rect x="61" y="259" width="1" height="1"/><rect x="61" y="263" width="1" height="1"/><rect x="61" y="267" width="1" height="1"/><rect x="61" y="271" width="1" height="1"/><rect x="61" y="275" width="1" height="1"/><rect x="61" y="279" width="1" height="1"/><rect x="61" y="283" width="1" height="1"/><rect x="61" y="287" width="1" height="1"/><rect x="61" y="291" width="1" height="1"/><rect x="61" y="295" width="1" height="1"/><rect x="61" y="299" width="1" height="1"/><rect x="61" y="303" width="1" height="1"/><rect x="61" y="307" width="1" height="1"/><rect x="61" y="311" width="1" height="1"/><rect x="61" y="315" width="1" height="1"/><rect x="61" y="319" width="1" height="1"/><rect x="61" y="323" width="1" height="1"/><rect x="61" y="327" width="1" height="1"/><rect x="61" y="331" width="1" height="1"/><rect x="61" y="335" width="1" height="1"/><rect x="61" y="339" width="1" height="1"/><rect x="61" y="343" width="1" height="1"/><rect x="61" y="347" width="1" height="1"/><rect x="61" y="351" width="1" height="1"/><rect x="61" y="355" width="1" height="1"/><rect x="61" y="359" width="1" height="1"/><rect x="61" y="363" width="1" height="1"/><rect x="61" y="367" width="1" height="1"/><rect x="61" y="371" width="1" height="1"/><rect x="61" y="375" width="1" height="1"/><rect x="61" y="379" width="1" height="1"/><rect x="61" y="383" width="1" height="1"/><rect x="61" y="387" width="1" height="1"/><rect x="61" y="391" width="1" height="1"/><rect x="61" y="395" width="1" height="1"/><rect x="61" y="399" width="1" height="1"/><rect x="61" y="403" width="1" height="1"/><rect x="61" y="407" width="1" height="1"/><rect x="61" y="411" width="1" height="1"/><rect x="61" y="415" width="1" height="1"/><rect x="61" y="419" width="1" height="1"/><rect x="61" y="423" width="1" height="1"/><rect x="61" y="427" width="1" height="1"/><rect x="119" y="15" width="1" height="1"/><rect x="119" y="19" width="1" height="1"/><rect x="119" y="23" width="1" height="1"/><rect x="119" y="27" width="1" height="1"/><rect x="119" y="31" width="1" height="1"/><rect x="119" y="35" width="1" height="1"/><rect x="119" y="39" width="1" height="1"/><rect x="119" y="43" width="1" height="1"/><rect x="119" y="47" width="1" height="1"/><rect x="119" y="51" width="1" height="1"/><rect x="119" y="55" width="1" height="1"/><rect x="119" y="59" width="1" height="1"/><rect x="119" y="63" width="1" height="1"/><rect x="119" y="67" width="1" height="1"/><rect x="119" y="71" width="1" height="1"/><rect x="119" y="75" width="1" height="1"/><rect x="119" y="79" width="1" height="1"/><rect x="119" y="83" width="1" height="1"/><rect x="119" y="87" width="1" height="1"/><rect x="119" y="91" width="1" height="1"/><rect x="119" y="95" width="1" height="1"/><rect x="119" y="99" width="1" height="1"/><rect x="119" y="103" width="1" height="1"/><rect x="119" y="107" width="1" height="1"/><rect x="119" y="111" width="1" height="1"/><rect x="119" y="115" width="1" height="1"/><rect x="119" y="119" width="1" height="1"/><rect x="119" y="123" width="1" height="1"/><rect x="119" y="127" width="1" height="1"/><rect x="119" y="131" width="1" height="1"/><rect x="119" y="135" width="1" height="1"/><rect x="119" y="139" width="1" height="1"/><rect x="119" y="143" width="1" height="1"/><rect x="119" y="147" width="1" height="1"/><rect x="119" y="151" width="1" height="1"/><rect x="119" y="155" width="1" height="1"/><rect x="119" y="159" width="1" height="1"/><rect x="119" y="163" width="1" height="1"/><rect x="119" y="167" width="1" height="1"/><rect x="119" y="171" width="1" height="1"/><rect x="119" y="175" width="1" height="1"/><rect x="119" y="179" width="1" height="1"/><rect x="119" y="183" width="1" height="1"/><rect x="119" y="187" width="1" height="1"/><rect x="119" y="191" width="1" height="1"/><rect x="119" y="195" width="1" height="1"/><rect x="119" y="199" width="1" height="1"/><rect x="119" y="203" width="1" height="1"/><rect x="119" y="207" width="1" height="1"/><rect x="119" y="211" width="1" height="1"/><rect x="119" y="215" width="1" height="1"/><rect x="119" y="219" width="1" height="1"/><rect x="119" y="223" width="1" height="1"/><rect x="119" y="227" width="1" height="1"/><rect x="119" y="231" width="1" height="1"/><rect x="119" y="235" width="1" height="1"/><rect x="119" y="239" width="1" height="1"/><rect x="119" y="243" width="1" height="1"/><rect x="119" y="247" width="1" height="1"/><rect x="119" y="251" width="1" height="1"/><rect x="119" y="255" width="1" height="1"/><rect x="119" y="259" width="1" height="1"/><rect x="119" y="263" width="1" height="1"/><rect x="119" y="267" width="1" height="1"/><rect x="119" y="271" width="1" height="1"/><rect x="119" y="275" width="1" height="1"/><rect x="119" y="279" width="1" height="1"/><rect x="119" y="283" width="1" height="1"/><rect x="119" y="287" width="1" height="1"/><rect x="119" y="291" width="1" height="1"/><rect x="119" y="295" width="1" height="1"/><rect x="119" y="299" width="1" height="1"/><rect x="119" y="303" width="1" height="1"/><rect x="119" y="307" width="1" height="1"/><rect x="119" y="311" width="1" height="1"/><rect x="119" y="315" width="1" height="1"/><rect x="119" y="319" width="1" height="1"/><rect x="119" y="323" width="1" height="1"/><rect x="119" y="327" width="1" height="1"/><rect x="119" y="331" width="1" height="1"/><rect x="119" y="335" width="1" height="1"/><rect x="119" y="339" width="1" height="1"/><rect x="119" y="343" width="1" height="1"/><rect x="119" y="347" width="1" height="1"/><rect x="119" y="351" width="1" height="1"/><rect x="119" y="355" width="1" height="1"/><rect x="119" y="359" width="1" height="1"/><rect x="119" y="363" width="1" height="1"/><rect x="119" y="367" width="1" height="1"/><rect x="119" y="371" width="1" height="1"/><rect x="119" y="375" width="1" height="1"/><rect x="119" y="379" width="1" height="1"/><rect x="119" y="383" width="1" height="1"/><rect x="119" y="387" width="1" height="1"/><rect x="119" y="391" width="1" height="1"/><rect x="119" y="395" width="1" height="1"/><rect x="119" y="399" width="1" height="1"/><rect x="119" y="403" width="1" height="1"/><rect x="119" y="407" width="1" height="1"/><rect x="119" y="411" width="1" height="1"/><rect x="119" y="415" width="1" height="1"/><rect x="119" y="419" width="1" height="1"/><rect x="119" y="423" width="1" height="1"/><rect x="119" y="427" width="1" height="1"/><rect x="176" y="15" width="1" height="1"/><rect x="176" y="19" width="1" height="1"/><rect x="176" y="23" width="1" height="1"/><rect x="176" y="27" width="1" height="1"/><rect x="176" y="31" width="1" height="1"/><rect x="176" y="35" width="1" height="1"/><rect x="176" y="39" width="1" height="1"/><rect x="176" y="43" width="1" height="1"/><rect x="176" y="47" width="1" height="1"/><rect x="176" y="51" width="1" height="1"/><rect x="176" y="55" width="1" height="1"/><rect x="176" y="59" width="1" height="1"/><rect x="176" y="63" width="1" height="1"/><rect x="176" y="67" width="1" height="1"/><rect x="176" y="71" width="1" height="1"/><rect x="176" y="75" width="1" height="1"/><rect x="176" y="79" width="1" height="1"/><rect x="176" y="83" width="1" height="1"/><rect x="176" y="87" width="1" height="1"/><rect x="176" y="91" width="1" height="1"/><rect x="176" y="95" width="1" height="1"/><rect x="176" y="99" width="1" height="1"/><rect x="176" y="103" width="1" height="1"/><rect x="176" y="107" width="1" height="1"/><rect x="176" y="111" width="1" height="1"/><rect x="176" y="115" width="1" height="1"/><rect x="176" y="119" width="1" height="1"/><rect x="176" y="123" width="1" height="1"/><rect x="176" y="127" width="1" height="1"/><rect x="176" y="131" width="1" height="1"/><rect x="176" y="135" width="1" height="1"/><rect x="176" y="139" width="1" height="1"/><rect x="176" y="143" width="1" height="1"/><rect x="176" y="147" width="1" height="1"/><rect x="176" y="151" width="1" height="1"/><rect x="176" y="155" width="1" height="1"/><rect x="176" y="159" width="1" height="1"/><rect x="176" y="163" width="1" height="1"/><rect x="176" y="167" width="1" height="1"/><rect x="176" y="171" width="1" height="1"/><rect x="176" y="175" width="1" height="1"/><rect x="176" y="179" width="1" height="1"/><rect x="176" y="183" width="1" height="1"/><rect x="176" y="187" width="1" height="1"/><rect x="176" y="191" width="1" height="1"/><rect x="176" y="195" width="1" height="1"/><rect x="176" y="199" width="1" height="1"/><rect x="176" y="203" width="1" height="1"/><rect x="176" y="207" width="1" height="1"/><rect x="176" y="211" width="1" height="1"/><rect x="176" y="215" width="1" height="1"/><rect x="176" y="219" width="1" height="1"/><rect x="176" y="223" width="1" height="1"/><rect x="176" y="227" width="1" height="1"/><rect x="176" y="231" width="1" height="1"/><rect x="176" y="235" width="1" height="1"/><rect x="176" y="239" width="1" height="1"/><rect x="176" y="243" width="1" height="1"/><rect x="176" y="247" width="1" height="1"/><rect x="176" y="251" width="1" height="1"/><rect x="176" y="255" width="1" height="1"/><rect x="176" y="259" width="1" height="1"/><rect x="176" y="263" width="1" height="1"/><rect x="176" y="267" width="1" height="1"/><rect x="176" y="271" width="1" height="1"/><rect x="176" y="275" width="1" height="1"/><rect x="176" y="279" width="1" height="1"/><rect x="176" y="283" width="1" height="1"/><rect x="176" y="287" width="1" height="1"/><rect x="176" y="291" width="1" height="1"/><rect x="176" y="295" width="1" height="1"/><rect x="176" y="299" width="1" height="1"/><rect x="176" y="303" width="1" height="1"/><rect x="176" y="307" width="1" height="1"/><rect x="176" y="311" width="1" height="1"/><rect x="176" y="315" width="1" height="1"/><rect x="176" y="319" width="1" height="1"/><rect x="176" y="323" width="1" height="1"/><rect x="176" y="327" width="1" height="1"/><rect x="176" y="331" width="1" height="1"/><rect x="176" y="335" width="1" height="1"/><rect x="176" y="339" width="1" height="1"/><rect x="176" y="343" width="1" height="1"/><rect x="176" y="347" width="1" height="1"/><rect x="176" y="351" width="1" height="1"/><rect x="176" y="355" width="1" height="1"/><rect x="176" y="359" width="1" height="1"/><rect x="176" y="363" width="1" height="1"/><rect x="176" y="367" width="1" height="1"/><rect x="176" y="371" width="1" height="1"/><rect x="176" y="375" width="1" height="1"/><rect x="176" y="379" width="1" height="1"/><rect x="176" y="383" width="1" height="1"/><rect x="176" y="387" width="1" height="1"/><rect x="176" y="391" width="1" height="1"/><rect x="176" y="395" width="1" height="1"/><rect x="176" y="399" width="1" height="1"/><rect x="176" y="403" width="1" height="1"/><rect x="176" y="407" width="1" height="1"/><rect x="176" y="411" width="1" height="1"/><rect x="176" y="415" width="1" height="1"/><rect x="176" y="419" width="1" height="1"/><rect x="176" y="423" width="1" height="1"/><rect x="176" y="427" width="1" height="1"/><rect x="233" y="15" width="1" height="1"/><rect x="233" y="19" width="1" height="1"/><rect x="233" y="23" width="1" height="1"/><rect x="233" y="27" width="1" height="1"/><rect x="233" y="31" width="1" height="1"/><rect x="233" y="35" width="1" height="1"/><rect x="233" y="39" width="1" height="1"/><rect x="233" y="43" width="1" height="1"/><rect x="233" y="47" width="1" height="1"/><rect x="233" y="51" width="1" height="1"/><rect x="233" y="55" width="1" height="1"/><rect x="233" y="59" width="1" height="1"/><rect x="233" y="63" width="1" height="1"/><rect x="233" y="67" width="1" height="1"/><rect x="233" y="71" width="1" height="1"/><rect x="233" y="75" width="1" height="1"/><rect x="233" y="79" width="1" height="1"/><rect x="233" y="83" width="1" height="1"/><rect x="233" y="87" width="1" height="1"/><rect x="233" y="91" width="1" height="1"/><rect x="233" y="95" width="1" height="1"/><rect x="233" y="99" width="1" height="1"/><rect x="233" y="103" width="1" height="1"/><rect x="233" y="107" width="1" height="1"/><rect x="233" y="111" width="1" height="1"/><rect x="233" y="115" width="1" height="1"/><rect x="233" y="119" width="1" height="1"/><rect x="233" y="123" width="1" height="1"/><rect x="233" y="127" width="1" height="1"/><rect x="233" y="131" width="1" height="1"/><rect x="233" y="135" width="1" height="1"/><rect x="233" y="139" width="1" height="1"/><rect x="233" y="143" width="1" height="1"/><rect x="233" y="147" width="1" height="1"/><rect x="233" y="151" width="1" height="1"/><rect x="233" y="155" width="1" height="1"/><rect x="233" y="159" width="1" height="1"/><rect x="233" y="163" width="1" height="1"/><rect x="233" y="167" width="1" height="1"/><rect x="233" y="171" width="1" height="1"/><rect x="233" y="175" width="1" height="1"/><rect x="233" y="179" width="1" height="1"/><rect x="233" y="183" width="1" height="1"/><rect x="233" y="187" width="1" height="1"/><rect x="233" y="191" width="1" height="1"/><rect x="233" y="195" width="1" height="1"/><rect x="233" y="199" width="1" height="1"/><rect x="233" y="203" width="1" height="1"/><rect x="233" y="207" width="1" height="1"/><rect x="233" y="211" width="1" height="1"/><rect x="233" y="215" width="1" height="1"/><rect x="233" y="219" width="1" height="1"/><rect x="233" y="223" width="1" height="1"/><rect x="233" y="227" width="1" height="1"/><rect x="233" y="231" width="1" height="1"/><rect x="233" y="235" width="1" height="1"/><rect x="233" y="239" width="1" height="1"/><rect x="233" y="243" width="1" height="1"/><rect x="233" y="247" width="1" height="1"/><rect x="233" y="251" width="1" height="1"/><rect x="233" y="255" width="1" height="1"/><rect x="233" y="259" width="1" height="1"/><rect x="233" y="263" width="1" height="1"/><rect x="233" y="267" width="1" height="1"/><rect x="233" y="271" width="1" height="1"/><rect x="233" y="275" width="1" height="1"/><rect x="233" y="279" width="1" height="1"/><rect x="233" y="283" width="1" height="1"/><rect x="233" y="287" width="1" height="1"/><rect x="233" y="291" width="1" height="1"/><rect x="233" y="295" width="1" height="1"/><rect x="233" y="299" width="1" height="1"/><rect x="233" y="303" width="1" height="1"/><rect x="233" y="307" width="1" height="1"/><rect x="233" y="311" width="1" height="1"/><rect x="233" y="315" width="1" height="1"/><rect x="233" y="319" width="1" height="1"/><rect x="233" y="323" width="1" height="1"/><rect x="233" y="327" width="1" height="1"/><rect x="233" y="331" width="1" height="1"/><rect x="233" y="335" width="1" height="1"/><rect x="233" y="339" width="1" height="1"/><rect x="233" y="343" width="1" height="1"/><rect x="233" y="347" width="1" height="1"/><rect x="233" y="351" width="1" height="1"/><rect x="233" y="355" width="1" height="1"/><rect x="233" y="359" width="1" height="1"/><rect x="233" y="363" width="1" height="1"/><rect x="233" y="367" width="1" height="1"/><rect x="233" y="371" width="1" height="1"/><rect x="233" y="375" width="1" height="1"/><rect x="233" y="379" width="1" height="1"/><rect x="233" y="383" width="1" height="1"/><rect x="233" y="387" width="1" height="1"/><rect x="233" y="391" width="1" height="1"/><rect x="233" y="395" width="1" height="1"/><rect x="233" y="399" width="1" height="1"/><rect x="233" y="403" width="1" height="1"/><rect x="233" y="407" width="1" height="1"/><rect x="233" y="411" width="1" height="1"/><rect x="233" y="415" width="1" height="1"/><rect x="233" y="419" width="1" height="1"/><rect x="233" y="423" width="1" height="1"/><rect x="233" y="427" width="1" height="1"/><rect x="291" y="15" width="1" height="1"/><rect x="291" y="19" width="1" height="1"/><rect x="291" y="23" width="1" height="1"/><rect x="291" y="27" width="1" height="1"/><rect x="291" y="31" width="1" height="1"/><rect x="291" y="35" width="1" height="1"/><rect x="291" y="39" width="1" height="1"/><rect x="291" y="43" width="1" height="1"/><rect x="291" y="47" width="1" height="1"/><rect x="291" y="51" width="1" height="1"/><rect x="291" y="55" width="1" height="1"/><rect x="291" y="59" width="1" height="1"/><rect x="291" y="63" width="1" height="1"/><rect x="291" y="67" width="1" height="1"/><rect x="291" y="71" width="1" height="1"/><rect x="291" y="75" width="1" height="1"/><rect x="291" y="79" width="1" height="1"/><rect x="291" y="83" width="1" height="1"/><rect x="291" y="87" width="1" height="1"/><rect x="291" y="91" width="1" height="1"/><rect x="291" y="95" width="1" height="1"/><rect x="291" y="99" width="1" height="1"/><rect x="291" y="103" width="1" height="1"/><rect x="291" y="107" width="1" height="1"/><rect x="291" y="111" width="1" height="1"/><rect x="291" y="115" width="1" height="1"/><rect x="291" y="119" width="1" height="1"/><rect x="291" y="123" width="1" height="1"/><rect x="291" y="127" width="1" height="1"/><rect x="291" y="131" width="1" height="1"/><rect x="291" y="135" width="1" height="1"/><rect x="291" y="139" width="1" height="1"/><rect x="291" y="143" width="1" height="1"/><rect x="291" y="147" width="1" height="1"/><rect x="291" y="151" width="1" height="1"/><rect x="291" y="155" width="1" height="1"/><rect x="291" y="159" width="1" height="1"/><rect x="291" y="163" width="1" height="1"/><rect x="291" y="167" width="1" height="1"/><rect x="291" y="171" width="1" height="1"/><rect x="291" y="175" width="1" height="1"/><rect x="291" y="179" width="1" height="1"/><rect x="291" y="183" width="1" height="1"/><rect x="291" y="187" width="1" height="1"/><rect x="291" y="191" width="1" height="1"/><rect x="291" y="195" width="1" height="1"/><rect x="291" y="199" width="1" height="1"/><rect x="291" y="203" width="1" height="1"/><rect x="291" y="207" width="1" height="1"/><rect x="291" y="211" width="1" height="1"/><rect x="291" y="215" width="1" height="1"/><rect x="291" y="219" width="1" height="1"/><rect x="291" y="223" width="1" height="1"/><rect x="291" y="227" width="1" height="1"/><rect x="291" y="231" width="1" height="1"/><rect x="291" y="235" width="1" height="1"/><rect x="291" y="239" width="1" height="1"/><rect x="291" y="243" width="1" height="1"/><rect x="291" y="247" width="1" height="1"/><rect x="291" y="251" width="1" height="1"/><rect x="291" y="255" width="1" height="1"/><rect x="291" y="259" width="1" height="1"/><rect x="291" y="263" width="1" height="1"/><rect x="291" y="267" width="1" height="1"/><rect x="291" y="271" width="1" height="1"/><rect x="291" y="275" width="1" height="1"/><rect x="291" y="279" width="1" height="1"/><rect x="291" y="283" width="1" height="1"/><rect x="291" y="287" width="1" height="1"/><rect x="291" y="291" width="1" height="1"/><rect x="291" y="295" width="1" height="1"/><rect x="291" y="299" width="1" height="1"/><rect x="291" y="303" width="1" height="1"/><rect x="291" y="307" width="1" height="1"/><rect x="291" y="311" width="1" height="1"/><rect x="291" y="315" width="1" height="1"/><rect x="291" y="319" width="1" height="1"/><rect x="291" y="323" width="1" height="1"/><rect x="291" y="327" width="1" height="1"/><rect x="291" y="331" width="1" height="1"/><rect x="291" y="335" width="1" height="1"/><rect x="291" y="339" width="1" height="1"/><rect x="291" y="343" width="1" height="1"/><rect x="291" y="347" width="1" height="1"/><rect x="291" y="351" width="1" height="1"/><rect x="291" y="355" width="1" height="1"/><rect x="291" y="359" width="1" height="1"/><rect x="291" y="363" width="1" height="1"/><rect x="291" y="367" width="1" height="1"/><rect x="291" y="371" width="1" height="1"/><rect x="291" y="375" width="1" height="1"/><rect x="291" y="379" width="1" height="1"/><rect x="291" y="383" width="1" height="1"/><rect x="291" y="387" width="1" height="1"/><rect x="291" y="391" width="1" height="1"/><rect x="291" y="395" width="1" height="1"/><rect x="291" y="399" width="1" height="1"/><rect x="291" y="403" width="1" height="1"/><rect x="291" y="407" width="1" height="1"/><rect x="291" y="411" width="1" height="1"/><rect x="291" y="415" width="1" height="1"/><rect x="291" y="419" width="1" height="1"/><rect x="291" y="423" width="1" height="1"/><rect x="291" y="427" width="1" height="1"/><rect x="348" y="15" width="1" height="1"/><rect x="348" y="19" width="1" height="1"/><rect x="348" y="23" width="1" height="1"/><rect x="348" y="27" width="1" height="1"/><rect x="348" y="31" width="1" height="1"/><rect x="348" y="35" width="1" height="1"/><rect x="348" y="39" width="1" height="1"/><rect x="348" y="43" width="1" height="1"/><rect x="348" y="47" width="1" height="1"/><rect x="348" y="51" width="1" height="1"/><rect x="348" y="55" width="1" height="1"/><rect x="348" y="59" width="1" height="1"/><rect x="348" y="63" width="1" height="1"/><rect x="348" y="67" width="1" height="1"/><rect x="348" y="71" width="1" height="1"/><rect x="348" y="75" width="1" height="1"/><rect x="348" y="79" width="1" height="1"/><rect x="348" y="83" width="1" height="1"/><rect x="348" y="87" width="1" height="1"/><rect x="348" y="91" width="1" height="1"/><rect x="348" y="95" width="1" height="1"/><rect x="348" y="99" width="1" height="1"/><rect x="348" y="103" width="1" height="1"/><rect x="348" y="107" width="1" height="1"/><rect x="348" y="111" width="1" height="1"/><rect x="348" y="115" width="1" height="1"/><rect x="348" y="119" width="1" height="1"/><rect x="348" y="123" width="1" height="1"/><rect x="348" y="127" width="1" height="1"/><rect x="348" y="131" width="1" height="1"/><rect x="348" y="135" width="1" height="1"/><rect x="348" y="139" width="1" height="1"/><rect x="348" y="143" width="1" height="1"/><rect x="348" y="147" width="1" height="1"/><rect x="348" y="151" width="1" height="1"/><rect x="348" y="155" width="1" height="1"/><rect x="348" y="159" width="1" height="1"/><rect x="348" y="163" width="1" height="1"/><rect x="348" y="167" width="1" height="1"/><rect x="348" y="171" width="1" height="1"/><rect x="348" y="175" width="1" height="1"/><rect x="348" y="179" width="1" height="1"/><rect x="348" y="183" width="1" height="1"/><rect x="348" y="187" width="1" height="1"/><rect x="348" y="191" width="1" height="1"/><rect x="348" y="195" width="1" height="1"/><rect x="348" y="199" width="1" height="1"/><rect x="348" y="203" width="1" height="1"/><rect x="348" y="207" width="1" height="1"/><rect x="348" y="211" width="1" height="1"/><rect x="348" y="215" width="1" height="1"/><rect x="348" y="219" width="1" height="1"/><rect x="348" y="223" width="1" height="1"/><rect x="348" y="227" width="1" height="1"/><rect x="348" y="231" width="1" height="1"/><rect x="348" y="235" width="1" height="1"/><rect x="348" y="239" width="1" height="1"/><rect x="348" y="243" width="1" height="1"/><rect x="348" y="247" width="1" height="1"/><rect x="348" y="251" width="1" height="1"/><rect x="348" y="255" width="1" height="1"/><rect x="348" y="259" width="1" height="1"/><rect x="348" y="263" width="1" height="1"/><rect x="348" y="267" width="1" height="1"/><rect x="348" y="271" width="1" height="1"/><rect x="348" y="275" width="1" height="1"/><rect x="348" y="279" width="1" height="1"/><rect x="348" y="283" width="1" height="1"/><rect x="348" y="287" width="1" height="1"/><rect x="348" y="291" width="1" height="1"/><rect x="348" y="295" width="1" height="1"/><rect x="348" y="299" width="1" height="1"/><rect x="348" y="303" width="1" height="1"/><rect x="348" y="307" width="1" height="1"/><rect x="348" y="311" width="1" height="1"/><rect x="348" y="315" width="1" height="1"/><rect x="348" y="319" width="1" height="1"/><rect x="348" y="323" width="1" height="1"/><rect x="348" y="327" width="1" height="1"/><rect x="348" y="331" width="1" height="1"/><rect x="348" y="335" width="1" height="1"/><rect x="348" y="339" width="1" height="1"/><rect x="348" y="343" width="1" height="1"/><rect x="348" y="347" width="1" height="1"/><rect x="348" y="351" width="1" height="1"/><rect x="348" y="355" width="1" height="1"/><rect x="348" y="359" width="1" height="1"/><rect x="348" y="363" width="1" height="1"/><rect x="348" y="367" width="1" height="1"/><rect x="348" y="371" width="1" height="1"/><rect x="348" y="375" width="1" height="1"/><rect x="348" y="379" width="1" height="1"/><rect x="348" y="383" width="1" height="1"/><rect x="348" y="387" width="1" height="1"/><rect x="348" y="391" width="1" height="1"/><rect x="348" y="395" width="1" height="1"/><rect x="348" y="399" width="1" height="1"/><rect x="348" y="403" width="1" height="1"/><rect x="348" y="407" width="1" height="1"/><rect x="348" y="411" width="1" height="1"/><rect x="348" y="415" width="1" height="1"/><rect x="348" y="419" width="1" height="1"/><rect x="348" y="423" width="1" height="1"/><rect x="348" y="427" width="1" height="1"/><rect x="405" y="15" width="1" height="1"/><rect x="405" y="19" width="1" height="1"/><rect x="405" y="23" width="1" height="1"/><rect x="405" y="27" width="1" height="1"/><rect x="405" y="31" width="1" height="1"/><rect x="405" y="35" width="1" height="1"/><rect x="405" y="39" width="1" height="1"/><rect x="405" y="43" width="1" height="1"/><rect x="405" y="47" width="1" height="1"/><rect x="405" y="51" width="1" height="1"/><rect x="405" y="55" width="1" height="1"/><rect x="405" y="59" width="1" height="1"/><rect x="405" y="63" width="1" height="1"/><rect x="405" y="67" width="1" height="1"/><rect x="405" y="71" width="1" height="1"/><rect x="405" y="75" width="1" height="1"/><rect x="405" y="79" width="1" height="1"/><rect x="405" y="83" width="1" height="1"/><rect x="405" y="87" width="1" height="1"/><rect x="405" y="91" width="1" height="1"/><rect x="405" y="95" width="1" height="1"/><rect x="405" y="99" width="1" height="1"/><rect x="405" y="103" width="1" height="1"/><rect x="405" y="107" width="1" height="1"/><rect x="405" y="111" width="1" height="1"/><rect x="405" y="115" width="1" height="1"/><rect x="405" y="119" width="1" height="1"/><rect x="405" y="123" width="1" height="1"/><rect x="405" y="127" width="1" height="1"/><rect x="405" y="131" width="1" height="1"/><rect x="405" y="135" width="1" height="1"/><rect x="405" y="139" width="1" height="1"/><rect x="405" y="143" width="1" height="1"/><rect x="405" y="147" width="1" height="1"/><rect x="405" y="151" width="1" height="1"/><rect x="405" y="155" width="1" height="1"/><rect x="405" y="159" width="1" height="1"/><rect x="405" y="163" width="1" height="1"/><rect x="405" y="167" width="1" height="1"/><rect x="405" y="171" width="1" height="1"/><rect x="405" y="175" width="1" height="1"/><rect x="405" y="179" width="1" height="1"/><rect x="405" y="183" width="1" height="1"/><rect x="405" y="187" width="1" height="1"/><rect x="405" y="191" width="1" height="1"/><rect x="405" y="195" width="1" height="1"/><rect x="405" y="199" width="1" height="1"/><rect x="405" y="203" width="1" height="1"/><rect x="405" y="207" width="1" height="1"/><rect x="405" y="211" width="1" height="1"/><rect x="405" y="215" width="1" height="1"/><rect x="405" y="219" width="1" height="1"/><rect x="405" y="223" width="1" height="1"/><rect x="405" y="227" width="1" height="1"/><rect x="405" y="231" width="1" height="1"/><rect x="405" y="235" width="1" height="1"/><rect x="405" y="239" width="1" height="1"/><rect x="405" y="243" width="1" height="1"/><rect x="405" y="247" width="1" height="1"/><rect x="405" y="251" width="1" height="1"/><rect x="405" y="255" width="1" height="1"/><rect x="405" y="259" width="1" height="1"/><rect x="405" y="263" width="1" height="1"/><rect x="405" y="267" width="1" height="1"/><rect x="405" y="271" width="1" height="1"/><rect x="405" y="275" width="1" height="1"/><rect x="405" y="279" width="1" height="1"/><rect x="405" y="283" width="1" height="1"/><rect x="405" y="287" width="1" height="1"/><rect x="405" y="291" width="1" height="1"/><rect x="405" y="295" width="1" height="1"/><rect x="405" y="299" width="1" height="1"/><rect x="405" y="303" width="1" height="1"/><rect x="405" y="307" width="1" height="1"/><rect x="405" y="311" width="1" height="1"/><rect x="405" y="315" width="1" height="1"/><rect x="405" y="319" width="1" height="1"/><rect x="405" y="323" width="1" height="1"/><rect x="405" y="327" width="1" height="1"/><rect x="405" y="331" width="1" height="1"/><rect x="405" y="335" width="1" height="1"/><rect x="405" y="339" width="1" height="1"/><rect x="405" y="343" width="1" height="1"/><rect x="405" y="347" width="1" height="1"/><rect x="405" y="351" width="1" height="1"/><rect x="405" y="355" width="1" height="1"/><rect x="405" y="359" width="1" height="1"/><rect x="405" y="363" width="1" height="1"/><rect x="405" y="367" width="1" height="1"/><rect x="405" y="371" width="1" height="1"/><rect x="405" y="375" width="1" height="1"/><rect x="405" y="379" width="1" height="1"/><rect x="405" y="383" width="1" height="1"/><rect x="405" y="387" width="1" height="1"/><rect x="405" y="391" width="1" height="1"/><rect x="405" y="395" width="1" height="1"/><rect x="405" y="399" width="1" height="1"/><rect x="405" y="403" width="1" height="1"/><rect x="405" y="407" width="1" height="1"/><rect x="405" y="411" width="1" height="1"/><rect x="405" y="415" width="1" height="1"/><rect x="405" y="419" width="1" height="1"/><rect x="405" y="423" width="1" height="1"/><rect x="405" y="427" width="1" height="1"/><rect x="463" y="15" width="1" height="1"/><rect x="463" y="19" width="1" height="1"/><rect x="463" y="23" width="1" height="1"/><rect x="463" y="27" width="1" height="1"/><rect x="463" y="31" width="1" height="1"/><rect x="463" y="35" width="1" height="1"/><rect x="463" y="39" width="1" height="1"/><rect x="463" y="43" width="1" height="1"/><rect x="463" y="47" width="1" height="1"/><rect x="463" y="51" width="1" height="1"/><rect x="463" y="55" width="1" height="1"/><rect x="463" y="59" width="1" height="1"/><rect x="463" y="63" width="1" height="1"/><rect x="463" y="67" width="1" height="1"/><rect x="463" y="71" width="1" height="1"/><rect x="463" y="75" width="1" height="1"/><rect x="463" y="79" width="1" height="1"/><rect x="463" y="83" width="1" height="1"/><rect x="463" y="87" width="1" height="1"/><rect x="463" y="91" width="1" height="1"/><rect x="463" y="95" width="1" height="1"/><rect x="463" y="99" width="1" height="1"/><rect x="463" y="103" width="1" height="1"/><rect x="463" y="107" width="1" height="1"/><rect x="463" y="111" width="1" height="1"/><rect x="463" y="115" width="1" height="1"/><rect x="463" y="119" width="1" height="1"/><rect x="463" y="123" width="1" height="1"/><rect x="463" y="127" width="1" height="1"/><rect x="463" y="131" width="1" height="1"/><rect x="463" y="135" width="1" height="1"/><rect x="463" y="139" width="1" height="1"/><rect x="463" y="143" width="1" height="1"/><rect x="463" y="147" width="1" height="1"/><rect x="463" y="151" width="1" height="1"/><rect x="463" y="155" width="1" height="1"/><rect x="463" y="159" width="1" height="1"/><rect x="463" y="163" width="1" height="1"/><rect x="463" y="167" width="1" height="1"/><rect x="463" y="171" width="1" height="1"/><rect x="463" y="175" width="1" height="1"/><rect x="463" y="179" width="1" height="1"/><rect x="463" y="183" width="1" height="1"/><rect x="463" y="187" width="1" height="1"/><rect x="463" y="191" width="1" height="1"/><rect x="463" y="195" width="1" height="1"/><rect x="463" y="199" width="1" height="1"/><rect x="463" y="203" width="1" height="1"/><rect x="463" y="207" width="1" height="1"/><rect x="463" y="211" width="1" height="1"/><rect x="463" y="215" width="1" height="1"/><rect x="463" y="219" width="1" height="1"/><rect x="463" y="223" width="1" height="1"/><rect x="463" y="227" width="1" height="1"/><rect x="463" y="231" width="1" height="1"/><rect x="463" y="235" width="1" height="1"/><rect x="463" y="239" width="1" height="1"/><rect x="463" y="243" width="1" height="1"/><rect x="463" y="247" width="1" height="1"/><rect x="463" y="251" width="1" height="1"/><rect x="463" y="255" width="1" height="1"/><rect x="463" y="259" width="1" height="1"/><rect x="463" y="263" width="1" height="1"/><rect x="463" y="267" width="1" height="1"/><rect x="463" y="271" width="1" height="1"/><rect x="463" y="275" width="1" height="1"/><rect x="463" y="279" width="1" height="1"/><rect x="463" y="283" width="1" height="1"/><rect x="463" y="287" width="1" height="1"/><rect x="463" y="291" width="1" height="1"/><rect x="463" y="295" width="1" height="1"/><rect x="463" y="299" width="1" height="1"/><rect x="463" y="303" width="1" height="1"/><rect x="463" y="307" width="1" height="1"/><rect x="463" y="311" width="1" height="1"/><rect x="463" y="315" width="1" height="1"/><rect x="463" y="319" width="1" height="1"/><rect x="463" y="323" width="1" height="1"/><rect x="463" y="327" width="1" height="1"/><rect x="463" y="331" width="1" height="1"/><rect x="463" y="335" width="1" height="1"/><rect x="463" y="339" width="1" height="1"/><rect x="463" y="343" width="1" height="1"/><rect x="463" y="347" width="1" height="1"/><rect x="463" y="351" width="1" height="1"/><rect x="463" y="355" width="1" height="1"/><rect x="463" y="359" width="1" height="1"/><rect x="463" y="363" width="1" height="1"/><rect x="463" y="367" width="1" height="1"/><rect x="463" y="371" width="1" height="1"/><rect x="463" y="375" width="1" height="1"/><rect x="463" y="379" width="1" height="1"/><rect x="463" y="383" width="1" height="1"/><rect x="463" y="387" width="1" height="1"/><rect x="463" y="391" width="1" height="1"/><rect x="463" y="395" width="1" height="1"/><rect x="463" y="399" width="1" height="1"/><rect x="463" y="403" width="1" height="1"/><rect x="463" y="407" width="1" height="1"/><rect x="463" y="411" width="1" height="1"/><rect x="463" y="415" width="1" height="1"/><rect x="463" y="419" width="1" height="1"/><rect x="463" y="423" width="1" height="1"/><rect x="463" y="427" width="1" height="1"/><rect x="520" y="15" width="1" height="1"/><rect x="520" y="19" width="1" height="1"/><rect x="520" y="23" width="1" height="1"/><rect x="520" y="27" width="1" height="1"/><rect x="520" y="31" width="1" height="1"/><rect x="520" y="35" width="1" height="1"/><rect x="520" y="39" width="1" height="1"/><rect x="520" y="43" width="1" height="1"/><rect x="520" y="47" width="1" height="1"/><rect x="520" y="51" width="1" height="1"/><rect x="520" y="55" width="1" height="1"/><rect x="520" y="59" width="1" height="1"/><rect x="520" y="63" width="1" height="1"/><rect x="520" y="67" width="1" height="1"/><rect x="520" y="71" width="1" height="1"/><rect x="520" y="75" width="1" height="1"/><rect x="520" y="79" width="1" height="1"/><rect x="520" y="83" width="1" height="1"/><rect x="520" y="87" width="1" height="1"/><rect x="520" y="91" width="1" height="1"/><rect x="520" y="95" width="1" height="1"/><rect x="520" y="99" width="1" height="1"/><rect x="520" y="103" width="1" height="1"/><rect x="520" y="107" width="1" height="1"/><rect x="520" y="111" width="1" height="1"/><rect x="520" y="115" width="1" height="1"/><rect x="520" y="119" width="1" height="1"/><rect x="520" y="123" width="1" height="1"/><rect x="520" y="127" width="1" height="1"/><rect x="520" y="131" width="1" height="1"/><rect x="520" y="135" width="1" height="1"/><rect x="520" y="139" width="1" height="1"/><rect x="520" y="143" width="1" height="1"/><rect x="520" y="147" width="1" height="1"/><rect x="520" y="151" width="1" height="1"/><rect x="520" y="155" width="1" height="1"/><rect x="520" y="159" width="1" height="1"/><rect x="520" y="163" width="1" height="1"/><rect x="520" y="167" width="1" height="1"/><rect x="520" y="171" width="1" height="1"/><rect x="520" y="175" width="1" height="1"/><rect x="520" y="179" width="1" height="1"/><rect x="520" y="183" width="1" height="1"/><rect x="520" y="187" width="1" height="1"/><rect x="520" y="191" width="1" height="1"/><rect x="520" y="195" width="1" height="1"/><rect x="520" y="199" width="1" height="1"/><rect x="520" y="203" width="1" height="1"/><rect x="520" y="207" width="1" height="1"/><rect x="520" y="211" width="1" height="1"/><rect x="520" y="215" width="1" height="1"/><rect x="520" y="219" width="1" height="1"/><rect x="520" y="223" width="1" height="1"/><rect x="520" y="227" width="1" height="1"/><rect x="520" y="231" width="1" height="1"/><rect x="520" y="235" width="1" height="1"/><rect x="520" y="239" width="1" height="1"/><rect x="520" y="243" width="1" height="1"/><rect x="520" y="247" width="1" height="1"/><rect x="520" y="251" width="1" height="1"/><rect x="520" y="255" width="1" height="1"/><rect x="520" y="259" width="1" height="1"/><rect x="520" y="263" width="1" height="1"/><rect x="520" y="267" width="1" height="1"/><rect x="520" y="271" width="1" height="1"/><rect x="520" y="275" width="1" height="1"/><rect x="520" y="279" width="1" height="1"/><rect x="520" y="283" width="1" height="1"/><rect x="520" y="287" width="1" height="1"/><rect x="520" y="291" width="1" height="1"/><rect x="520" y="295" width="1" height="1"/><rect x="520" y="299" width="1" height="1"/><rect x="520" y="303" width="1" height="1"/><rect x="520" y="307" width="1" height="1"/><rect x="520" y="311" width="1" height="1"/><rect x="520" y="315" width="1" height="1"/><rect x="520" y="319" width="1" height="1"/><rect x="520" y="323" width="1" height="1"/><rect x="520" y="327" width="1" height="1"/><rect x="520" y="331" width="1" height="1"/><rect x="520" y="335" width="1" height="1"/><rect x="520" y="339" width="1" height="1"/><rect x="520" y="343" width="1" height="1"/><rect x="520" y="347" width="1" height="1"/><rect x="520" y="351" width="1" height="1"/><rect x="520" y="355" width="1" height="1"/><rect x="520" y="359" width="1" height="1"/><rect x="520" y="363" width="1" height="1"/><rect x="520" y="367" width="1" height="1"/><rect x="520" y="371" width="1" height="1"/><rect x="520" y="375" width="1" height="1"/><rect x="520" y="379" width="1" height="1"/><rect x="520" y="383" width="1" height="1"/><rect x="520" y="387" width="1" height="1"/><rect x="520" y="391" width="1" height="1"/><rect x="520" y="395" width="1" height="1"/><rect x="520" y="399" width="1" height="1"/><rect x="520" y="403" width="1" height="1"/><rect x="520" y="407" width="1" height="1"/><rect x="520" y="411" width="1" height="1"/><rect x="520" y="415" width="1" height="1"/><rect x="520" y="419" width="1" height="1"/><rect x="520" y="423" width="1" height="1"/><rect x="520" y="427" width="1" height="1"/><rect x="578" y="15" width="1" height="1"/><rect x="578" y="19" width="1" height="1"/><rect x="578" y="23" width="1" height="1"/><rect x="578" y="27" width="1" height="1"/><rect x="578" y="31" width="1" height="1"/><rect x="578" y="35" width="1" height="1"/><rect x="578" y="39" width="1" height="1"/><rect x="578" y="43" width="1" height="1"/><rect x="578" y="47" width="1" height="1"/><rect x="578" y="51" width="1" height="1"/><rect x="578" y="55" width="1" height="1"/><rect x="578" y="59" width="1" height="1"/><rect x="578" y="63" width="1" height="1"/><rect x="578" y="67" width="1" height="1"/><rect x="578" y="71" width="1" height="1"/><rect x="578" y="75" width="1" height="1"/><rect x="578" y="79" width="1" height="1"/><rect x="578" y="83" width="1" height="1"/><rect x="578" y="87" width="1" height="1"/><rect x="578" y="91" width="1" height="1"/><rect x="578" y="95" width="1" height="1"/><rect x="578" y="99" width="1" height="1"/><rect x="578" y="103" width="1" height="1"/><rect x="578" y="107" width="1" height="1"/><rect x="578" y="111" width="1" height="1"/><rect x="578" y="115" width="1" height="1"/><rect x="578" y="119" width="1" height="1"/><rect x="578" y="123" width="1" height="1"/><rect x="578" y="127" width="1" height="1"/><rect x="578" y="131" width="1" height="1"/><rect x="578" y="135" width="1" height="1"/><rect x="578" y="139" width="1" height="1"/><rect x="578" y="143" width="1" height="1"/><rect x="578" y="147" width="1" height="1"/><rect x="578" y="151" width="1" height="1"/><rect x="578" y="155" width="1" height="1"/><rect x="578" y="159" width="1" height="1"/><rect x="578" y="163" width="1" height="1"/><rect x="578" y="167" width="1" height="1"/><rect x="578" y="171" width="1" height="1"/><rect x="578" y="175" width="1" height="1"/><rect x="578" y="179" width="1" height="1"/><rect x="578" y="183" width="1" height="1"/><rect x="578" y="187" width="1" height="1"/><rect x="578" y="191" width="1" height="1"/><rect x="578" y="195" width="1" height="1"/><rect x="578" y="199" width="1" height="1"/><rect x="578" y="203" width="1" height="1"/><rect x="578" y="207" width="1" height="1"/><rect x="578" y="211" width="1" height="1"/><rect x="578" y="215" width="1" height="1"/><rect x="578" y="219" width="1" height="1"/><rect x="578" y="223" width="1" height="1"/><rect x="578" y="227" width="1" height="1"/><rect x="578" y="231" width="1" height="1"/><rect x="578" y="235" width="1" height="1"/><rect x="578" y="239" width="1" height="1"/><rect x="578" y="243" width="1" height="1"/><rect x="578" y="247" width="1" height="1"/><rect x="578" y="251" width="1" height="1"/><rect x="578" y="255" width="1" height="1"/><rect x="578" y="259" width="1" height="1"/><rect x="578" y="263" width="1" height="1"/><rect x="578" y="267" width="1" height="1"/><rect x="578" y="271" width="1" height="1"/><rect x="578" y="275" width="1" height="1"/><rect x="578" y="279" width="1" height="1"/><rect x="578" y="283" width="1" height="1"/><rect x="578" y="287" width="1" height="1"/><rect x="578" y="291" width="1" height="1"/><rect x="578" y="295" width="1" height="1"/><rect x="578" y="299" width="1" height="1"/><rect x="578" y="303" width="1" height="1"/><rect x="578" y="307" width="1" height="1"/><rect x="578" y="311" width="1" height="1"/><rect x="578" y="315" width="1" height="1"/><rect x="578" y="319" width="1" height="1"/><rect x="578" y="323" width="1" height="1"/><rect x="578" y="327" width="1" height="1"/><rect x="578" y="331" width="1" height="1"/><rect x="578" y="335" width="1" height="1"/><rect x="578" y="339" width="1" height="1"/><rect x="578" y="343" width="1" height="1"/><rect x="578" y="347" width="1" height="1"/><rect x="578" y="351" width="1" height="1"/><rect x="578" y="355" width="1" height="1"/><rect x="578" y="359" width="1" height="1"/><rect x="578" y="363" width="1" height="1"/><rect x="578" y="367" width="1" height="1"/><rect x="578" y="371" width="1" height="1"/><rect x="578" y="375" width="1" height="1"/><rect x="578" y="379" width="1" height="1"/><rect x="578" y="383" width="1" height="1"/><rect x="578" y="387" width="1" height="1"/><rect x="578" y="391" width="1" height="1"/><rect x="578" y="395" width="1" height="1"/><rect x="578" y="399" width="1" height="1"/><rect x="578" y="403" width="1" height="1"/><rect x="578" y="407" width="1" height="1"/><rect x="578" y="411" width="1" height="1"/><rect x="578" y="415" width="1" height="1"/><rect x="578" y="419" width="1" height="1"/><rect x="578" y="423" width="1" height="1"/><rect x="578" y="427" width="1" height="1"/><rect x="635" y="15" width="1" height="1"/><rect x="635" y="19" width="1" height="1"/><rect x="635" y="23" width="1" height="1"/><rect x="635" y="27" width="1" height="1"/><rect x="635" y="31" width="1" height="1"/><rect x="635" y="35" width="1" height="1"/><rect x="635" y="39" width="1" height="1"/><rect x="635" y="43" width="1" height="1"/><rect x="635" y="47" width="1" height="1"/><rect x="635" y="51" width="1" height="1"/><rect x="635" y="55" width="1" height="1"/><rect x="635" y="59" width="1" height="1"/><rect x="635" y="63" width="1" height="1"/><rect x="635" y="67" width="1" height="1"/><rect x="635" y="71" width="1" height="1"/><rect x="635" y="75" width="1" height="1"/><rect x="635" y="79" width="1" height="1"/><rect x="635" y="83" width="1" height="1"/><rect x="635" y="87" width="1" height="1"/><rect x="635" y="91" width="1" height="1"/><rect x="635" y="95" width="1" height="1"/><rect x="635" y="99" width="1" height="1"/><rect x="635" y="103" width="1" height="1"/><rect x="635" y="107" width="1" height="1"/><rect x="635" y="111" width="1" height="1"/><rect x="635" y="115" width="1" height="1"/><rect x="635" y="119" width="1" height="1"/><rect x="635" y="123" width="1" height="1"/><rect x="635" y="127" width="1" height="1"/><rect x="635" y="131" width="1" height="1"/><rect x="635" y="135" width="1" height="1"/><rect x="635" y="139" width="1" height="1"/><rect x="635" y="143" width="1" height="1"/><rect x="635" y="147" width="1" height="1"/><rect x="635" y="151" width="1" height="1"/><rect x="635" y="155" width="1" height="1"/><rect x="635" y="159" width="1" height="1"/><rect x="635" y="163" width="1" height="1"/><rect x="635" y="167" width="1" height="1"/><rect x="635" y="171" width="1" height="1"/><rect x="635" y="175" width="1" height="1"/><rect x="635" y="179" width="1" height="1"/><rect x="635" y="183" width="1" height="1"/><rect x="635" y="187" width="1" height="1"/><rect x="635" y="191" width="1" height="1"/><rect x="635" y="195" width="1" height="1"/><rect x="635" y="199" width="1" height="1"/><rect x="635" y="203" width="1" height="1"/><rect x="635" y="207" width="1" height="1"/><rect x="635" y="211" width="1" height="1"/><rect x="635" y="215" width="1" height="1"/><rect x="635" y="219" width="1" height="1"/><rect x="635" y="223" width="1" height="1"/><rect x="635" y="227" width="1" height="1"/><rect x="635" y="231" width="1" height="1"/><rect x="635" y="235" width="1" height="1"/><rect x="635" y="239" width="1" height="1"/><rect x="635" y="243" width="1" height="1"/><rect x="635" y="247" width="1" height="1"/><rect x="635" y="251" width="1" height="1"/><rect x="635" y="255" width="1" height="1"/><rect x="635" y="259" width="1" height="1"/><rect x="635" y="263" width="1" height="1"/><rect x="635" y="267" width="1" height="1"/><rect x="635" y="271" width="1" height="1"/><rect x="635" y="275" width="1" height="1"/><rect x="635" y="279" width="1" height="1"/><rect x="635" y="283" width="1" height="1"/><rect x="635" y="287" width="1" height="1"/><rect x="635" y="291" width="1" height="1"/><rect x="635" y="295" width="1" height="1"/><rect x="635" y="299" width="1" height="1"/><rect x="635" y="303" width="1" height="1"/><rect x="635" y="307" width="1" height="1"/><rect x="635" y="311" width="1" height="1"/><rect x="635" y="315" width="1" height="1"/><rect x="635" y="319" width="1" height="1"/><rect x="635" y="323" width="1" height="1"/><rect x="635" y="327" width="1" height="1"/><rect x="635" y="331" width="1" height="1"/><rect x="635" y="335" width="1" height="1"/><rect x="635" y="339" width="1" height="1"/><rect x="635" y="343" width="1" height="1"/><rect x="635" y="347" width="1" height="1"/><rect x="635" y="351" width="1" height="1"/><rect x="635" y="355" width="1" height="1"/><rect x="635" y="359" width="1" height="1"/><rect x="635" y="363" width="1" height="1"/><rect x="635" y="367" width="1" height="1"/><rect x="635" y="371" width="1" height="1"/><rect x="635" y="375" width="1" height="1"/><rect x="635" y="379" width="1" height="1"/><rect x="635" y="383" width="1" height="1"/><rect x="635" y="387" width="1" height="1"/><rect x="635" y="391" width="1" height="1"/><rect x="635" y="395" width="1" height="1"/><rect x="635" y="399" width="1" height="1"/><rect x="635" y="403" width="1" height="1"/><rect x="635" y="407" width="1" height="1"/><rect x="635" y="411" width="1" height="1"/><rect x="635" y="415" width="1" height="1"/><rect x="635" y="419" width="1" height="1"/><rect x="635" y="423" width="1" height="1"/><rect x="635" y="427" width="1" height="1"/><rect x="692" y="15" width="1" height="1"/><rect x="692" y="19" width="1" height="1"/><rect x="692" y="23" width="1" height="1"/><rect x="692" y="27" width="1" height="1"/><rect x="692" y="31" width="1" height="1"/><rect x="692" y="35" width="1" height="1"/><rect x="692" y="39" width="1" height="1"/><rect x="692" y="43" width="1" height="1"/><rect x="692" y="47" width="1" height="1"/><rect x="692" y="51" width="1" height="1"/><rect x="692" y="55" width="1" height="1"/><rect x="692" y="59" width="1" height="1"/><rect x="692" y="63" width="1" height="1"/><rect x="692" y="67" width="1" height="1"/><rect x="692" y="71" width="1" height="1"/><rect x="692" y="75" width="1" height="1"/><rect x="692" y="79" width="1" height="1"/><rect x="692" y="83" width="1" height="1"/><rect x="692" y="87" width="1" height="1"/><rect x="692" y="91" width="1" height="1"/><rect x="692" y="95" width="1" height="1"/><rect x="692" y="99" width="1" height="1"/><rect x="692" y="103" width="1" height="1"/><rect x="692" y="107" width="1" height="1"/><rect x="692" y="111" width="1" height="1"/><rect x="692" y="115" width="1" height="1"/><rect x="692" y="119" width="1" height="1"/><rect x="692" y="123" width="1" height="1"/><rect x="692" y="127" width="1" height="1"/><rect x="692" y="131" width="1" height="1"/><rect x="692" y="135" width="1" height="1"/><rect x="692" y="139" width="1" height="1"/><rect x="692" y="143" width="1" height="1"/><rect x="692" y="147" width="1" height="1"/><rect x="692" y="151" width="1" height="1"/><rect x="692" y="155" width="1" height="1"/><rect x="692" y="159" width="1" height="1"/><rect x="692" y="163" width="1" height="1"/><rect x="692" y="167" width="1" height="1"/><rect x="692" y="171" width="1" height="1"/><rect x="692" y="175" width="1" height="1"/><rect x="692" y="179" width="1" height="1"/><rect x="692" y="183" width="1" height="1"/><rect x="692" y="187" width="1" height="1"/><rect x="692" y="191" width="1" height="1"/><rect x="692" y="195" width="1" height="1"/><rect x="692" y="199" width="1" height="1"/><rect x="692" y="203" width="1" height="1"/><rect x="692" y="207" width="1" height="1"/><rect x="692" y="211" width="1" height="1"/><rect x="692" y="215" width="1" height="1"/><rect x="692" y="219" width="1" height="1"/><rect x="692" y="223" width="1" height="1"/><rect x="692" y="227" width="1" height="1"/><rect x="692" y="231" width="1" height="1"/><rect x="692" y="235" width="1" height="1"/><rect x="692" y="239" width="1" height="1"/><rect x="692" y="243" width="1" height="1"/><rect x="692" y="247" width="1" height="1"/><rect x="692" y="251" width="1" height="1"/><rect x="692" y="255" width="1" height="1"/><rect x="692" y="259" width="1" height="1"/><rect x="692" y="263" width="1" height="1"/><rect x="692" y="267" width="1" height="1"/><rect x="692" y="271" width="1" height="1"/><rect x="692" y="275" width="1" height="1"/><rect x="692" y="279" width="1" height="1"/><rect x="692" y="283" width="1" height="1"/><rect x="692" y="287" width="1" height="1"/><rect x="692" y="291" width="1" height="1"/><rect x="692" y="295" width="1" height="1"/><rect x="692" y="299" width="1" height="1"/><rect x="692" y="303" width="1" height="1"/><rect x="692" y="307" width="1" height="1"/><rect x="692" y="311" width="1" height="1"/><rect x="692" y="315" width="1" height="1"/><rect x="692" y="319" width="1" height="1"/><rect x="692" y="323" width="1" height="1"/><rect x="692" y="327" width="1" height="1"/><rect x="692" y="331" width="1" height="1"/><rect x="692" y="335" width="1" height="1"/><rect x="692" y="339" width="1" height="1"/><rect x="692" y="343" width="1" height="1"/><rect x="692" y="347" width="1" height="1"/><rect x="692" y="351" width="1" height="1"/><rect x="692" y="355" width="1" height="1"/><rect x="692" y="359" width="1" height="1"/><rect x="692" y="363" width="1" height="1"/><rect x="692" y="367" width="1" height="1"/><rect x="692" y="371" width="1" height="1"/><rect x="692" y="375" width="1" height="1"/><rect x="692" y="379" width="1" height="1"/><rect x="692" y="383" width="1" height="1"/><rect x="692" y="387" width="1" height="1"/><rect x="692" y="391" width="1" height="1"/><rect x="692" y="395" width="1" height="1"/><rect x="692" y="399" width="1" height="1"/><rect x="692" y="403" width="1" height="1"/><rect x="692" y="407" width="1" height="1"/><rect x="692" y="411" width="1" height="1"/><rect x="692" y="415" width="1" height="1"/><rect x="692" y="419" width="1" height="1"/><rect x="692" y="423" width="1" height="1"/><rect x="692" y="427" width="1" height="1"/></g>
<g fill="#000"><rect x="4" y="430" width="1" height="4"/><rect x="61" y="430" width="1" height="4"/><rect x="119" y="430" width="1" height="4"/><rect x="176" y="430" width="1" height="4"/><rect x="233" y="430" width="1" height="4"/><rect x="291" y="430" width="1" height="4"/><rect x="348" y="430" width="1" height="4"/><rect x="405" y="430" width="1" height="4"/><rect x="463" y="430" width="1" height="4"/><rect x="520" y="430" width="1" height="4"/><rect x="578" y="430" width="1" height="4"/><rect x="635" y="430" width="1" height="4"/><rect x="692" y="430" width="1" height="4"/><rect x="26" y="430" width="1" height="9"/><rect x="136" y="430" width="1" height="9"/><rect x="247" y="430" width="1" height="9"/><rect x="313" y="430" width="1" height="9"/><rect x="423" y="430" width="1" height="9"/><rect x="564" y="430" width="1" height="9"/><rect x="635" y="430" width="1" height="9"/></g>
<g font-family="Liberation Sans" font-size="12" fill="#000"><text x="29" y="446">18/09/07</text><text x="139" y="446">25/09/07</text><text x="250" y="446">02/10/07</text><text x="316" y="446">05/10/07</text><text x="426" y="446">12/10/07</text><text x="521" y="446">09:45</text><text x="567" y="446">18/10/07</text><text x="638" y="446">19/10/07</text></g>
<g><rect x="6" y="364" width="1" height="24" fill="#000080"/><rect x="7" y="375" width="1" height="1" fill="#000080"/><rect x="8" y="375" width="1" height="16" fill="#000080"/><rect x="9" y="390" width="1" height="1" fill="#000080"/><rect x="10" y="380" width="1" height="13" fill="#000080"/><rect x="11" y="383" width="1" height="1" fill="#000080"/><rect x="12" y="383" width="1" height="10" fill="#000080"/><rect x="13" y="392" width="2" height="1" fill="#000080"/><rect x="15" y="378" width="1" height="15" fill="#000080"/><rect x="16" y="383" width="1" height="1" fill="#000080"/><rect x="17" y="383" width="1" height="10" fill="#000080"/><rect x="18" y="392" width="1" height="1" fill="#000080"/><rect x="19" y="376" width="1" height="17" fill="#000080"/><rect x="20" y="376" width="1" height="1" fill="#000080"/><rect x="21" y="372" width="1" height="21" fill="#000080"/><rect x="22" y="392" width="1" height="1" fill="#000080"/><rect x="23" y="383" width="1" height="10" fill="#000080"/><rect x="24" y="383" width="1" height="1" fill="#000080"/><rect x="25" y="381" width="1" height="1" fill="#000000"/><rect x="26" y="358" width="1" height="24" fill="#000000"/><rect x="27" y="358" width="1" height="1" fill="#000000"/><rect x="28" y="352" width="1" height="21" fill="#000000"/><rect x="29" y="352" width="1" height="1" fill="#000000"/><rect x="30" y="334" width="1" height="23" fill="#000000"/><rect x="31" y="335" width="2" height="1" fill="#000000"/><rect x="33" y="335" width="1" height="13" fill="#000000"/><rect x="34" y="344" width="1" height="1" fill="#000000"/><rect x="35" y="344" width="1" height="8" fill="#000000"/><rect x="36" y="351" width="1" height="1" fill="#000000"/><rect x="37" y="345" width="1" height="11" fill="#000000"/><rect x="38" y="346" width="1" height="1" fill="#000000"/><rect x="39" y="346" width="1" height="15" fill="#000000"/><rect x="40" y="357" width="1" height="1" fill="#000000"/><rect x="41" y="268" width="1" height="90" fill="#000000"/><rect x="42" y="268" width="2" height="1" fill="#000000"/><rect x="44" y="239" width="1" height="47" fill="#000000"/><rect x="45" y="239" width="1" height="1" fill="#000000"/><rect x="46" y="237" width="1" height="16" fill="#000000"/><rect x="47" y="237" width="1" height="1" fill="#000000"/><rect x="48" y="204" width="1" height="35" fill="#000080"/><rect x="49" y="204" width="1" height="1" fill="#000080"/><rect x="50" y="194" width="1" height="11" fill="#000080"/><rect x="51" y="194" width="1" height="1" fill="#000080"/><rect x="52" y="186" width="1" height="18" fill="#000080"/><rect x="53" y="186" width="2" height="1" fill="#000080"/><rect x="55" y="181" width="1" height="18" fill="#000080"/><rect x="56" y="198" width="1" height="1" fill="#000080"/><rect x="57" y="191" width="1" height="12" fill="#000080"/><rect x="58" y="191" width="1" height="1" fill="#000080"/><rect x="59" y="191" width="1" height="18" fill="#000080"/><rect x="60" y="208" width="1" height="1" fill="#000080"/><rect x="61" y="195" width="1" height="18" fill="#000080"/><rect x="62" y="202" width="1" height="1" fill="#000080"/><rect x="63" y="202" width="1" height="20" fill="#000080"/><rect x="64" y="210" width="2" height="1" fill="#000080"/><rect x="66" y="191" width="1" height="20" fill="#000080"/><rect x="67" y="200" width="1" height="1" fill="#000080"/><rect x="68" y="200" width="1" height="16" fill="#000080"/><rect x="69" y="205" width="1" height="1" fill="#000080"/><rect x="70" y="205" width="1" height="18" fill="#000000"/><rect x="71" y="222" width="1" height="1" fill="#000000"/><rect x="72" y="203" width="1" height="20" fill="#000000"/><rect x="73" y="203" width="2" height="1" fill="#000000"/><rect x="75" y="201" width="1" height="18" fill="#000000"/><rect x="76" y="217" width="1" height="1" fill="#000000"/><rect x="77" y="205" width="1" height="13" fill="#000000"/><rect x="78" y="205" width="1" height="1" fill="#000000"/><rect x="79" y="202" width="1" height="16" fill="#000000"/><rect x="80" y="217" width="1" height="1" fill="#000000"/><rect x="81" y="209" width="1" height="12" fill="#000000"/><rect x="82" y="213" width="1" height="1" fill="#000000"/><rect x="83" y="213" width="1" height="12" fill="#000000"/><rect x="84" y="216" width="2" height="1" fill="#000000"/><rect x="86" y="216" width="1" height="18" fill="#000000"/><rect x="87" y="233" width="1" height="1" fill="#000000"/><rect x="88" y="217" width="1" height="21" fill="#000000"/><rect x="89" y="221" width="1" height="1" fill="#000000"/><rect x="90" y="221" width="1" height="8" fill="#000000"/><rect x="91" y="225" width="1" height="1" fill="#000000"/><rect x="92" y="189" width="1" height="37" fill="#000080"/><rect x="93" y="189" width="1" height="1" fill="#000080"/><rect x="94" y="186" width="1" height="13" fill="#000080"/><rect x="95" y="198" width="2" height="1" fill="#000080"/><rect x="97" y="188" width="1" height="14" fill="#000080"/><rect x="98" y="188" width="1" height="1" fill="#000080"/><rect x="99" y="183" width="1" height="9" fill="#000080"/><rect x="100" y="183" width="1" height="1" fill="#000080"/><rect x="101" y="177" width="1" height="12" fill="#000080"/><rect x="102" y="179" width="1" height="1" fill="#000080"/><rect x="103" y="179" width="1" height="7" fill="#000080"/><rect x="104" y="182" width="1" height="1" fill="#000080"/><rect x="105" y="182" width="1" height="13" fill="#000080"/><rect x="106" y="194" width="2" height="1" fill="#000080"/><rect x="108" y="190" width="1" height="14" fill="#000080"/><rect x="109" y="190" width="1" height="1" fill="#000080"/><rect x="110" y="190" width="1" height="12" fill="#000080"/><rect x="111" y="201" width="1" height="1" fill="#000080"/><rect x="112" y="195" width="1" height="10" fill="#000080"/><rect x="113" y="195" width="1" height="1" fill="#000080"/><rect x="114" y="187" width="1" height="16" fill="#000000"/><rect x="115" y="202" width="1" height="1" fill="#000000"/><rect x="116" y="183" width="1" height="27" fill="#000000"/><rect x="117" y="183" width="2" height="1" fill="#000000"/><rect x="119" y="179" width="1" height="14" fill="#000000"/><rect x="120" y="191" width="1" height="1" fill="#000000"/><rect x="121" y="179" width="1" height="13" fill="#000000"/><rect x="122" y="185" width="1" height="1" fill="#000000"/><rect x="123" y="185" width="1" height="12" fill="#000000"/><rect x="124" y="191" width="1" height="1" fill="#000000"/><rect x="125" y="191" width="1" height="20" fill="#000000"/><rect x="126" y="206" width="1" height="1" fill="#000000"/><rect x="127" y="206" width="1" height="15" fill="#000000"/><rect x="128" y="210" width="2" height="1" fill="#000000"/><rect x="130" y="210" width="1" height="19" fill="#000000"/><rect x="131" y="228" width="1" height="1" fill="#000000"/><rect x="132" y="218" width="1" height="14" fill="#000000"/><rect x="133" y="223" width="1" height="1" fill="#000000"/><rect x="134" y="223" width="1" height="11" fill="#000000"/><rect x="135" y="229" width="1" height="1" fill="#000000"/><rect x="136" y="229" width="1" height="29" fill="#000080"/><rect x="137" y="256" width="2" height="1" fill="#000080"/><rect x="139" y="227" width="1" height="30" fill="#000080"/><rect x="140" y="227" width="1" height="1" fill="#000080"/><rect x="141" y="217" width="1" height="23" fill="#000080"/><rect x="142" y="237" width="1" height="1" fill="#000080"/><rect x="143" y="220" width="1" height="18" fill="#000080"/><rect x="144" y="227" width="1" height="1" fill="#000080"/><rect x="145" y="227" width="1" height="11" fill="#000080"/><rect x="146" y="236" width="1" height="1" fill="#000080"/><rect x="147" y="223" width="1" height="14" fill="#000080"/><rect x="148" y="223" width="2" height="1" fill="#000080"/><rect x="150" y="222" width="1" height="10" fill="#000080"/><rect x="151" y="230" width="1" height="1" fill="#000080"/><rect x="152" y="220" width="1" height="11" fill="#000080"/><rect x="153" y="220" width="1" height="1" fill="#000080"/><rect x="154" y="219" width="1" height="13" fill="#000080"/><rect x="155" y="231" width="1" height="1" fill="#000080"/><rect x="156" y="217" width="1" height="15" fill="#000080"/><rect x="157" y="217" width="1" height="1" fill="#000080"/><rect x="158" y="186" width="1" height="35" fill="#000000"/><rect x="159" y="189" width="2" height="1" fill="#000000"/><rect x="161" y="189" width="1" height="12" fill="#000000"/><rect x="162" y="199" width="1" height="1" fill="#000000"/><rect x="163" y="181" width="1" height="19" fill="#000000"/><rect x="164" y="181" width="1" height="1" fill="#000000"/><rect x="165" y="179" width="1" height="9" fill="#000000"/><rect x="166" y="187" width="1" height="1" fill="#000000"/><rect x="167" y="181" width="1" height="8" fill="#000000"/><rect x="168" y="181" width="1" height="1" fill="#000000"/><rect x="169" y="180" width="1" height="8" fill="#000000"/><rect x="170" y="183" width="2" height="1" fill="#000000"/><rect x="172" y="183" width="1" height="23" fill="#000000"/><rect x="173" y="198" width="1" height="1" fill="#000000"/><rect x="174" y="187" width="1" height="12" fill="#000000"/><rect x="175" y="187" width="1" height="1" fill="#000000"/><rect x="176" y="159" width="1" height="33" fill="#000000"/><rect x="177" y="173" width="1" height="1" fill="#000000"/><rect x="178" y="173" width="1" height="12" fill="#000000"/><rect x="179" y="176" width="1" height="1" fill="#000000"/><rect x="180" y="158" width="1" height="19" fill="#000080"/><rect x="181" y="161" width="2" height="1" fill="#000080"/><rect x="183" y="161" width="1" height="19" fill="#000080"/><rect x="184" y="176" width="1" height="1" fill="#000080"/><rect x="185" y="161" width="1" height="16" fill="#000080"/><rect x="186" y="167" width="1" height="1" fill="#000080"/><rect x="187" y="167" width="1" height="15" fill="#000080"/><rect x="188" y="180" width="1" height="1" fill="#000080"/><rect x="189" y="168" width="1" height="13" fill="#000080"/><rect x="190" y="168" width="1" height="1" fill="#000080"/><rect x="191" y="168" width="1" height="9" fill="#000080"/><rect x="192" y="176" width="2" height="1" fill="#000080"/><rect x="194" y="166" width="1" height="16" fill="#000080"/><rect x="195" y="166" width="1" height="1" fill="#000080"/><rect x="196" y="164" width="1" height="14" fill="#000080"/><rect x="197" y="171" width="1" height="1" fill="#000080"/><rect x="198" y="160" width="1" height="12" fill="#000080"/><rect x="199" y="160" width="1" height="1" fill="#000080"/><rect x="200" y="160" width="1" height="6" fill="#000080"/><rect x="201" y="165" width="2" height="1" fill="#000080"/><rect x="203" y="158" width="1" height="11" fill="#000000"/><rect x="204" y="158" width="1" height="1" fill="#000000"/><rect x="205" y="156" width="1" height="20" fill="#000000"/><rect x="206" y="174" width="1" height="1" fill="#000000"/><rect x="207" y="174" width="1" height="13" fill="#000000"/><rect x="208" y="181" width="1" height="1" fill="#000000"/><rect x="209" y="162" width="1" height="20" fill="#000000"/><rect x="210" y="167" width="1" height="1" fill="#000000"/><rect x="211" y="167" width="1" height="11" fill="#000000"/><rect x="212" y="174" width="2" height="1" fill="#000000"/><rect x="214" y="160" width="1" height="15" fill="#000000"/><rect x="215" y="160" width="1" height="1" fill="#000000"/><rect x="216" y="156" width="1" height="11" fill="#000000"/><rect x="217" y="163" width="1" height="1" fill="#000000"/><rect x="218" y="163" width="1" height="12" fill="#000000"/><rect x="219" y="167" width="1" height="1" fill="#000000"/><rect x="220" y="167" width="1" height="24" fill="#000000"/><rect x="221" y="176" width="1" height="1" fill="#000000"/><rect x="222" y="167" width="1" height="10" fill="#000000"/><rect x="223" y="167" width="2" height="1" fill="#000000"/><rect x="225" y="145" width="1" height="25" fill="#000080"/><rect x="226" y="145" width="1" height="1" fill="#000080"/><rect x="227" y="120" width="1" height="26" fill="#000080"/><rect x="228" y="122" width="1" height="1" fill="#000080"/><rect x="229" y="122" width="1" height="8" fill="#000080"/><rect x="230" y="127" width="1" height="1" fill="#000080"/><rect x="231" y="106" width="1" height="22" fill="#000080"/><rect x="232" y="106" width="1" height="1" fill="#000080"/><rect x="233" y="98" width="1" height="13" fill="#000080"/><rect x="234" y="107" width="2" height="1" fill="#000080"/><rect x="236" y="87" width="1" height="21" fill="#000080"/><rect x="237" y="87" width="1" height="1" fill="#000080"/><rect x="238" y="77" width="1" height="13" fill="#000080"/><rect x="239" y="88" width="1" height="1" fill="#000080"/><rect x="240" y="74" width="1" height="15" fill="#000080"/><rect x="241" y="74" width="1" height="1" fill="#000080"/><rect x="242" y="72" width="1" height="22" fill="#000080"/><rect x="243" y="92" width="1" height="1" fill="#000080"/><rect x="244" y="83" width="1" height="10" fill="#000080"/><rect x="245" y="83" width="2" height="1" fill="#000080"/><rect x="247" y="79" width="1" height="10" fill="#000000"/><rect x="248" y="81" width="1" height="1" fill="#000000"/><rect x="249" y="81" width="1" height="17" fill="#000000"/><rect x="250" y="95" width="1" height="1" fill="#000000"/><rect x="251" y="95" width="1" height="12" fill="#000000"/><rect x="252" y="105" width="1" height="1" fill="#000000"/><rect x="253" y="93" width="1" height="13" fill="#000000"/><rect x="254" y="99" width="1" height="1" fill="#000000"/><rect x="255" y="99" width="1" height="14" fill="#000000"/><rect x="256" y="105" width="2" height="1" fill="#000000"/><rect x="258" y="105" width="1" height="13" fill="#000000"/><rect x="259" y="117" width="1" height="1" fill="#000000"/><rect x="260" y="102" width="1" height="17" fill="#000000"/><rect x="261" y="102" width="1" height="1" fill="#000000"/><rect x="262" y="99" width="1" height="7" fill="#000000"/><rect x="263" y="105" width="1" height="1" fill="#000000"/><rect x="264" y="101" width="1" height="11" fill="#000000"/><rect x="265" y="101" width="2" height="1" fill="#000000"/><rect x="267" y="100" width="1" height="7" fill="#000000"/><rect x="268" y="106" width="1" height="1" fill="#000000"/><rect x="269" y="106" width="1" height="25" fill="#000080"/><rect x="270" y="130" width="1" height="1" fill="#000080"/><rect x="271" y="116" width="1" height="21" fill="#000080"/><rect x="272" y="116" width="1" height="1" fill="#000080"/><rect x="273" y="113" width="1" height="16" fill="#000080"/><rect x="274" y="123" width="1" height="1" fill="#000080"/><rect x="275" y="108" width="1" height="16" fill="#000080"/><rect x="276" y="111" width="2" height="1" fill="#000080"/><rect x="278" y="111" width="1" height="11" fill="#000080"/><rect x="279" y="116" width="1" height="1" fill="#000080"/><rect x="280" y="116" width="1" height="17" fill="#000080"/><rect x="281" y="128" width="1" height="1" fill="#000080"/><rect x="282" y="128" width="1" height="20" fill="#000080"/><rect x="283" y="146" width="1" height="1" fill="#000080"/><rect x="284" y="136" width="1" height="11" fill="#000080"/><rect x="285" y="136" width="1" height="1" fill="#000080"/><rect x="286" y="131" width="1" height="13" fill="#000080"/><rect x="287" y="142" width="2" height="1" fill="#000080"/><rect x="289" y="133" width="1" height="10" fill="#000080"/><rect x="290" y="133" width="1" height="1" fill="#000080"/><rect x="290" y="130" width="1" height="8" fill="#000000"/><rect x="291" y="130" width="2" height="1" fill="#000000"/><rect x="293" y="129" width="1" height="14" fill="#000000"/><rect x="294" y="142" width="1" height="1" fill="#000000"/><rect x="295" y="133" width="1" height="10" fill="#000000"/><rect x="296" y="133" width="1" height="1" fill="#000000"/><rect x="297" y="131" width="1" height="7" fill="#000000"/><rect x="298" y="137" width="2" height="1" fill="#000000"/><rect x="300" y="134" width="1" height="6" fill="#000000"/><rect x="301" y="134" width="1" height="1" fill="#000000"/><rect x="302" y="131" width="1" height="7" fill="#000000"/><rect x="303" y="137" width="1" height="1" fill="#000000"/><rect x="304" y="133" width="1" height="9" fill="#000000"/><rect x="305" y="135" width="1" height="1" fill="#000000"/><rect x="306" y="135" width="1" height="10" fill="#000000"/><rect x="307" y="144" width="1" height="1" fill="#000000"/><rect x="308" y="136" width="1" height="9" fill="#000000"/><rect x="309" y="136" width="1" height="1" fill="#000000"/><rect x="310" y="133" width="1" height="8" fill="#000000"/><rect x="311" y="137" width="2" height="1" fill="#000000"/><rect x="313" y="97" width="1" height="41" fill="#000080"/><rect x="314" y="100" width="1" height="1" fill="#000080"/><rect x="315" y="100" width="1" height="17" fill="#000080"/><rect x="316" y="116" width="1" height="1" fill="#000080"/><rect x="317" y="100" width="1" height="17" fill="#000080"/><rect x="318" y="100" width="1" height="1" fill="#000080"/><rect x="319" y="86" width="1" height="20" fill="#000080"/><rect x="320" y="86" width="2" height="1" fill="#000080"/><rect x="322" y="86" width="1" height="13" fill="#000080"/><rect x="323" y="96" width="1" height="1" fill="#000080"/><rect x="324" y="90" width="1" height="7" fill="#000080"/><rect x="325" y="90" width="1" height="1" fill="#000080"/><rect x="326" y="78" width="1" height="16" fill="#000080"/><rect x="327" y="78" width="1" height="1" fill="#000080"/><rect x="328" y="73" width="1" height="11" fill="#000080"/><rect x="329" y="73" width="2" height="1" fill="#000080"/><rect x="331" y="70" width="1" height="22" fill="#000080"/><rect x="332" y="90" width="1" height="1" fill="#000080"/><rect x="333" y="90" width="1" height="10" fill="#000080"/><rect x="334" y="93" width="1" height="1" fill="#000080"/><rect x="335" y="93" width="1" height="14" fill="#000000"/><rect x="336" y="104" width="1" height="1" fill="#000000"/><rect x="337" y="96" width="1" height="9" fill="#000000"/><rect x="338" y="97" width="1" height="1" fill="#000000"/><rect x="339" y="97" width="1" height="16" fill="#000000"/><rect x="340" y="112" width="2" height="1" fill="#000000"/><rect x="342" y="105" width="1" height="12" fill="#000000"/><rect x="343" y="109" width="1" height="1" fill="#000000"/><rect x="344" y="109" width="1" height="8" fill="#000000"/><rect x="345" y="114" width="1" height="1" fill="#000000"/><rect x="345" y="108" width="1" height="7" fill="#000000"/><rect x="346" y="108" width="2" height="1" fill="#000000"/><rect x="348" y="108" width="1" height="12" fill="#000000"/><rect x="349" y="118" width="1" height="1" fill="#000000"/><rect x="350" y="106" width="1" height="13" fill="#000000"/><rect x="351" y="106" width="2" height="1" fill="#000000"/><rect x="353" y="105" width="1" height="10" fill="#000000"/><rect x="354" y="107" width="1" height="1" fill="#000000"/><rect x="355" y="103" width="1" height="5" fill="#000000"/><rect x="356" y="103" width="1" height="1" fill="#000000"/><rect x="357" y="86" width="1" height="20" fill="#000080"/><rect x="358" y="87" width="1" height="1" fill="#000080"/><rect x="359" y="87" width="1" height="17" fill="#000080"/><rect x="360" y="103" width="1" height="1" fill="#000080"/><rect x="361" y="87" width="1" height="17" fill="#000080"/><rect x="362" y="88" width="2" height="1" fill="#000080"/><rect x="364" y="88" width="1" height="8" fill="#000080"/><rect x="365" y="88" width="1" height="1" fill="#000080"/><rect x="366" y="88" width="1" height="9" fill="#000080"/><rect x="367" y="95" width="1" height="1" fill="#000080"/><rect x="368" y="95" width="1" height="7" fill="#000080"/><rect x="369" y="101" width="1" height="1" fill="#000080"/><rect x="370" y="85" width="1" height="20" fill="#000080"/><rect x="371" y="85" width="1" height="1" fill="#000080"/><rect x="372" y="66" width="1" height="28" fill="#000080"/><rect x="373" y="66" width="2" height="1" fill="#000080"/><rect x="375" y="50" width="1" height="22" fill="#000080"/><rect x="376" y="50" width="1" height="1" fill="#000080"/><rect x="377" y="50" width="1" height="12" fill="#000080"/><rect x="378" y="50" width="1" height="1" fill="#000080"/><rect x="379" y="50" width="1" height="21" fill="#000000"/><rect x="380" y="67" width="1" height="1" fill="#000000"/><rect x="381" y="67" width="1" height="13" fill="#000000"/><rect x="382" y="79" width="1" height="1" fill="#000000"/><rect x="383" y="71" width="1" height="14" fill="#000000"/><rect x="384" y="71" width="2" height="1" fill="#000000"/><rect x="386" y="67" width="1" height="26" fill="#000000"/><rect x="387" y="86" width="1" height="1" fill="#000000"/><rect x="388" y="86" width="1" height="14" fill="#000000"/><rect x="389" y="92" width="1" height="1" fill="#000000"/><rect x="390" y="92" width="1" height="28" fill="#000000"/><rect x="391" y="119" width="1" height="1" fill="#000000"/><rect x="392" y="107" width="1" height="13" fill="#000000"/><rect x="393" y="107" width="2" height="1" fill="#000000"/><rect x="395" y="92" width="1" height="22" fill="#000000"/><rect x="396" y="92" width="1" height="1" fill="#000000"/><rect x="397" y="77" width="1" height="18" fill="#000000"/><rect x="398" y="82" width="1" height="1" fill="#000000"/><rect x="399" y="82" width="1" height="12" fill="#000000"/><rect x="400" y="90" width="1" height="1" fill="#000000"/><rect x="401" y="49" width="1" height="42" fill="#000080"/><rect x="402" y="49" width="1" height="1" fill="#000080"/><rect x="403" y="48" width="1" height="16" fill="#000080"/><rect x="404" y="63" width="2" height="1" fill="#000080"/><rect x="406" y="49" width="1" height="16" fill="#000080"/><rect x="407" y="53" width="1" height="1" fill="#000080"/><rect x="408" y="53" width="1" height="12" fill="#000080"/><rect x="409" y="57" width="1" height="1" fill="#000080"/><rect x="410" y="42" width="1" height="16" fill="#000080"/><rect x="411" y="42" width="1" height="1" fill="#000080"/><rect x="412" y="36" width="1" height="12" fill="#000080"/><rect x="413" y="38" width="1" height="1" fill="#000080"/><rect x="414" y="38" width="1" height="33" fill="#000080"/><rect x="415" y="65" width="2" height="1" fill="#000080"/><rect x="417" y="65" width="1" height="49" fill="#000080"/><rect x="418" y="94" width="1" height="1" fill="#000080"/><rect x="419" y="94" width="1" height="52" fill="#000080"/><rect x="420" y="126" width="1" height="1" fill="#000080"/><rect x="421" y="113" width="1" height="14" fill="#000080"/><rect x="422" y="113" width="1" height="1" fill="#000080"/><rect x="423" y="103" width="1" height="14" fill="#000000"/><rect x="424" y="116" width="1" height="1" fill="#000000"/><rect x="425" y="94" width="1" height="25" fill="#000000"/><rect x="426" y="94" width="2" height="1" fill="#000000"/><rect x="428" y="92" width="1" height="14" fill="#000000"/><rect x="429" y="92" width="1" height="1" fill="#000000"/><rect x="430" y="86" width="1" height="10" fill="#000000"/><rect x="431" y="95" width="1" height="1" fill="#000000"/><rect x="432" y="84" width="1" height="12" fill="#000000"/><rect x="433" y="84" width="1" height="1" fill="#000000"/><rect x="434" y="80" width="1" height="19" fill="#000000"/><rect x="435" y="96" width="1" height="1" fill="#000000"/><rect x="436" y="80" width="1" height="17" fill="#000000"/><rect x="437" y="80" width="2" height="1" fill="#000000"/><rect x="439" y="78" width="1" height="11" fill="#000000"/><rect x="440" y="84" width="1" height="1" fill="#000000"/><rect x="441" y="84" width="1" height="13" fill="#000000"/><rect x="442" y="94" width="1" height="1" fill="#000000"/><rect x="443" y="82" width="1" height="13" fill="#000000"/><rect x="444" y="82" width="1" height="1" fill="#000000"/><rect x="445" y="72" width="1" height="14" fill="#000080"/><rect x="446" y="84" width="1" height="1" fill="#000080"/><rect x="447" y="84" width="1" height="21" fill="#000080"/><rect x="448" y="100" width="2" height="1" fill="#000080"/><rect x="450" y="100" width="1" height="37" fill="#000080"/><rect x="451" y="136" width="1" height="1" fill="#000080"/><rect x="452" y="126" width="1" height="23" fill="#000080"/><rect x="453" y="127" width="1" height="1" fill="#000080"/><rect x="454" y="127" width="1" height="15" fill="#000080"/><rect x="455" y="138" width="1" height="1" fill="#000080"/><rect x="456" y="138" width="1" height="20" fill="#000080"/><rect x="457" y="157" width="2" height="1" fill="#000080"/><rect x="459" y="140" width="1" height="20" fill="#000080"/><rect x="460" y="140" width="1" height="1" fill="#000080"/><rect x="461" y="140" width="1" height="17" fill="#000080"/><rect x="462" y="156" width="1" height="1" fill="#000080"/><rect x="463" y="137" width="1" height="30" fill="#000080"/><rect x="464" y="137" width="1" height="1" fill="#000080"/><rect x="465" y="127" width="1" height="16" fill="#000080"/><rect x="466" y="127" width="1" height="1" fill="#000080"/><rect x="467" y="127" width="1" height="27" fill="#000000"/><rect x="468" y="141" width="2" height="1" fill="#000000"/><rect x="470" y="141" width="1" height="37" fill="#000000"/><rect x="471" y="170" width="1" height="1" fill="#000000"/><rect x="472" y="154" width="1" height="17" fill="#000000"/><rect x="473" y="154" width="1" height="1" fill="#000000"/><rect x="474" y="141" width="1" height="26" fill="#000000"/><rect x="475" y="159" width="1" height="1" fill="#000000"/><rect x="476" y="149" width="1" height="11" fill="#000000"/><rect x="477" y="149" width="1" height="1" fill="#000000"/><rect x="478" y="149" width="1" height="20" fill="#000000"/></g>
<g stroke="#0000ff" stroke-width="1" fill="none" shape-rendering="crispEdges">
<line x1="222" y1="189.5" x2="509.5" y2="34.5"/>
<line x1="410.5" y1="34.5" x2="710" y2="350"/>
<line x1="322.5" y1="63.5" x2="710" y2="385.5"/>
</g>
<rect x="713.5" y="15.5" width="55.5" height="413.5" fill="#fff" stroke="#000" stroke-width="1"/>
<g font-family="Liberation Sans" font-size="12" letter-spacing="0.3"><rect x="713" y="35" width="5" height="1" fill="#000"/><text x="719" y="40" fill="#000080">14.200,00</text><rect x="713" y="79" width="5" height="1" fill="#000"/><text x="719" y="84" fill="#000080">14.100,00</text><rect x="713" y="123" width="5" height="1" fill="#000"/><text x="719" y="128" fill="#000080">14.000,00</text><rect x="713" y="211" width="5" height="1" fill="#000"/><text x="719" y="216" fill="#000080">13.800,00</text><rect x="713" y="255" width="5" height="1" fill="#000"/><text x="719" y="260" fill="#000080">13.700,00</text><rect x="713" y="299" width="5" height="1" fill="#000"/><text x="719" y="304" fill="#000080">13.600,00</text><rect x="713" y="343" width="5" height="1" fill="#000"/><text x="719" y="348" fill="#000080">13.500,00</text><rect x="713" y="387" width="5" height="1" fill="#000"/><text x="719" y="392" fill="#000080">13.400,00</text></g>
<rect x="720.5" y="160.5" width="60" height="15" fill="#ffffc0" stroke="#000"/>
<text x="721.5" y="173" font-family="Liberation Sans" font-size="12" letter-spacing="0.45" fill="#000">13.898,23</text>
<rect x="769" y="15" width="1" height="414" fill="#000"/>
<g fill="#000"><rect x="717" y="166" width="1" height="1"/><rect x="714" y="167" width="4" height="1"/><rect x="715" y="168" width="1" height="1"/><rect x="718" y="168" width="1" height="1"/><rect x="716" y="169" width="1" height="1"/><rect x="717" y="170" width="1" height="1"/></g>
<defs><linearGradient id="lg" x1="0" y1="0" x2="0" y2="1"><stop offset="0" stop-color="#0f7aab"/><stop offset="1" stop-color="#3799c6"/></linearGradient></defs>
<rect x="10.5" y="381.5" width="151" height="37" fill="url(#lg)" stroke="#000"/>
<defs><linearGradient id="el" x1="0" y1="0" x2="1" y2="1"><stop offset="0" stop-color="#2a9fd6"/><stop offset="1" stop-color="#3cc2f2"/></linearGradient></defs><ellipse cx="43.4" cy="401.5" rx="17.7" ry="8.6" fill="url(#el)" shape-rendering="geometricPrecision"/><ellipse cx="43.4" cy="401.2" rx="10.8" ry="6.8" fill="#1c8bbf" shape-rendering="geometricPrecision"/>
<defs><linearGradient id="sw" gradientUnits="userSpaceOnUse" x1="17" y1="0" x2="40" y2="0"><stop offset="0" stop-color="#c8d49a" stop-opacity="0.5"/><stop offset="1" stop-color="#f6b11f"/></linearGradient></defs><path d="M57.5 387.5 L58.8 388.2 L58.6 392 C 52 399.5, 45 405.5, 38.5 409.3 C 33 411, 27 410.5, 17 411.2 L 16.5 410.3 C 24 409.5, 31 409.5, 35.5 408.7 C 44 404, 51 396, 57.5 387.5 Z" fill="url(#sw)" shape-rendering="geometricPrecision"/>
<text x="71" y="398" font-family="Liberation Sans" font-size="12.85" fill="#0a4f70" opacity="0.6" transform="translate(1,1)">Visual Chart</text>
<text x="71" y="398" font-family="Liberation Sans" font-size="12.85" fill="#fff">Visual Chart</text>
<text x="71" y="411" font-family="Liberation Sans" font-size="9.15" fill="#fff" stroke="#fff" stroke-width="0.2">www.visualchart.com</text>
</svg>
</body></html>
